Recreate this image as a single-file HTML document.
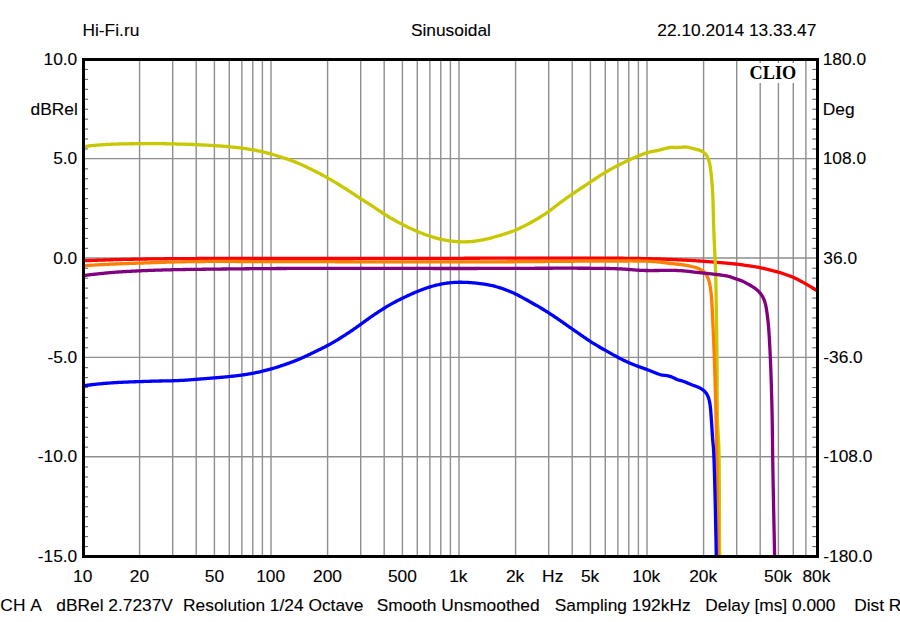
<!DOCTYPE html>
<html><head><meta charset="utf-8"><style>
html,body{margin:0;padding:0;background:#fff;width:900px;height:622px;overflow:hidden;}
svg{display:block;}
</style></head><body>
<svg width="900" height="622" viewBox="0 0 900 622"><defs><clipPath id="pc"><rect x="85" y="61" width="731" height="494"/></clipPath></defs><g stroke="#8e8e8e" stroke-width="1.4"><line x1="139.59" y1="61" x2="139.59" y2="555" /><line x1="172.70" y1="61" x2="172.70" y2="555" /><line x1="196.19" y1="61" x2="196.19" y2="555" /><line x1="214.41" y1="61" x2="214.41" y2="555" /><line x1="229.29" y1="61" x2="229.29" y2="555" /><line x1="241.88" y1="61" x2="241.88" y2="555" /><line x1="252.78" y1="61" x2="252.78" y2="555" /><line x1="262.40" y1="61" x2="262.40" y2="555" /><line x1="271.00" y1="61" x2="271.00" y2="555" /><line x1="327.59" y1="61" x2="327.59" y2="555" /><line x1="360.70" y1="61" x2="360.70" y2="555" /><line x1="384.19" y1="61" x2="384.19" y2="555" /><line x1="402.41" y1="61" x2="402.41" y2="555" /><line x1="417.29" y1="61" x2="417.29" y2="555" /><line x1="429.88" y1="61" x2="429.88" y2="555" /><line x1="440.78" y1="61" x2="440.78" y2="555" /><line x1="450.40" y1="61" x2="450.40" y2="555" /><line x1="459.00" y1="61" x2="459.00" y2="555" /><line x1="515.59" y1="61" x2="515.59" y2="555" /><line x1="548.70" y1="61" x2="548.70" y2="555" /><line x1="572.19" y1="61" x2="572.19" y2="555" /><line x1="590.41" y1="61" x2="590.41" y2="555" /><line x1="605.29" y1="61" x2="605.29" y2="555" /><line x1="617.88" y1="61" x2="617.88" y2="555" /><line x1="628.78" y1="61" x2="628.78" y2="555" /><line x1="638.40" y1="61" x2="638.40" y2="555" /><line x1="647.00" y1="61" x2="647.00" y2="555" /><line x1="703.59" y1="61" x2="703.59" y2="555" /><line x1="736.70" y1="61" x2="736.70" y2="555" /><line x1="760.19" y1="61" x2="760.19" y2="555" /><line x1="778.41" y1="61" x2="778.41" y2="555" /><line x1="793.29" y1="61" x2="793.29" y2="555" /><line x1="805.88" y1="61" x2="805.88" y2="555" /><line x1="85" y1="158.65" x2="816" y2="158.65" /><line x1="85" y1="258.00" x2="816" y2="258.00" /><line x1="85" y1="357.35" x2="816" y2="357.35" /><line x1="85" y1="456.70" x2="816" y2="456.70" /></g><g stroke="#686868" stroke-width="1.1"><line x1="85" y1="69.44" x2="88" y2="69.44" /><line x1="812.3" y1="69.44" x2="816" y2="69.44" /><line x1="85" y1="79.38" x2="88" y2="79.38" /><line x1="812.3" y1="79.38" x2="816" y2="79.38" /><line x1="85" y1="89.32" x2="88" y2="89.32" /><line x1="812.3" y1="89.32" x2="816" y2="89.32" /><line x1="85" y1="99.26" x2="88" y2="99.26" /><line x1="812.3" y1="99.26" x2="816" y2="99.26" /><line x1="85" y1="109.20" x2="88" y2="109.20" /><line x1="812.3" y1="109.20" x2="816" y2="109.20" /><line x1="85" y1="119.14" x2="88" y2="119.14" /><line x1="812.3" y1="119.14" x2="816" y2="119.14" /><line x1="85" y1="129.08" x2="88" y2="129.08" /><line x1="812.3" y1="129.08" x2="816" y2="129.08" /><line x1="85" y1="139.02" x2="88" y2="139.02" /><line x1="812.3" y1="139.02" x2="816" y2="139.02" /><line x1="85" y1="148.96" x2="88" y2="148.96" /><line x1="812.3" y1="148.96" x2="816" y2="148.96" /><line x1="85" y1="168.84" x2="88" y2="168.84" /><line x1="812.3" y1="168.84" x2="816" y2="168.84" /><line x1="85" y1="178.78" x2="88" y2="178.78" /><line x1="812.3" y1="178.78" x2="816" y2="178.78" /><line x1="85" y1="188.72" x2="88" y2="188.72" /><line x1="812.3" y1="188.72" x2="816" y2="188.72" /><line x1="85" y1="198.66" x2="88" y2="198.66" /><line x1="812.3" y1="198.66" x2="816" y2="198.66" /><line x1="85" y1="208.60" x2="88" y2="208.60" /><line x1="812.3" y1="208.60" x2="816" y2="208.60" /><line x1="85" y1="218.54" x2="88" y2="218.54" /><line x1="812.3" y1="218.54" x2="816" y2="218.54" /><line x1="85" y1="228.48" x2="88" y2="228.48" /><line x1="812.3" y1="228.48" x2="816" y2="228.48" /><line x1="85" y1="238.42" x2="88" y2="238.42" /><line x1="812.3" y1="238.42" x2="816" y2="238.42" /><line x1="85" y1="248.36" x2="88" y2="248.36" /><line x1="812.3" y1="248.36" x2="816" y2="248.36" /><line x1="85" y1="268.24" x2="88" y2="268.24" /><line x1="812.3" y1="268.24" x2="816" y2="268.24" /><line x1="85" y1="278.18" x2="88" y2="278.18" /><line x1="812.3" y1="278.18" x2="816" y2="278.18" /><line x1="85" y1="288.12" x2="88" y2="288.12" /><line x1="812.3" y1="288.12" x2="816" y2="288.12" /><line x1="85" y1="298.06" x2="88" y2="298.06" /><line x1="812.3" y1="298.06" x2="816" y2="298.06" /><line x1="85" y1="308.00" x2="88" y2="308.00" /><line x1="812.3" y1="308.00" x2="816" y2="308.00" /><line x1="85" y1="317.94" x2="88" y2="317.94" /><line x1="812.3" y1="317.94" x2="816" y2="317.94" /><line x1="85" y1="327.88" x2="88" y2="327.88" /><line x1="812.3" y1="327.88" x2="816" y2="327.88" /><line x1="85" y1="337.82" x2="88" y2="337.82" /><line x1="812.3" y1="337.82" x2="816" y2="337.82" /><line x1="85" y1="347.76" x2="88" y2="347.76" /><line x1="812.3" y1="347.76" x2="816" y2="347.76" /><line x1="85" y1="367.64" x2="88" y2="367.64" /><line x1="812.3" y1="367.64" x2="816" y2="367.64" /><line x1="85" y1="377.58" x2="88" y2="377.58" /><line x1="812.3" y1="377.58" x2="816" y2="377.58" /><line x1="85" y1="387.52" x2="88" y2="387.52" /><line x1="812.3" y1="387.52" x2="816" y2="387.52" /><line x1="85" y1="397.46" x2="88" y2="397.46" /><line x1="812.3" y1="397.46" x2="816" y2="397.46" /><line x1="85" y1="407.40" x2="88" y2="407.40" /><line x1="812.3" y1="407.40" x2="816" y2="407.40" /><line x1="85" y1="417.34" x2="88" y2="417.34" /><line x1="812.3" y1="417.34" x2="816" y2="417.34" /><line x1="85" y1="427.28" x2="88" y2="427.28" /><line x1="812.3" y1="427.28" x2="816" y2="427.28" /><line x1="85" y1="437.22" x2="88" y2="437.22" /><line x1="812.3" y1="437.22" x2="816" y2="437.22" /><line x1="85" y1="447.16" x2="88" y2="447.16" /><line x1="812.3" y1="447.16" x2="816" y2="447.16" /><line x1="85" y1="467.04" x2="88" y2="467.04" /><line x1="812.3" y1="467.04" x2="816" y2="467.04" /><line x1="85" y1="476.98" x2="88" y2="476.98" /><line x1="812.3" y1="476.98" x2="816" y2="476.98" /><line x1="85" y1="486.92" x2="88" y2="486.92" /><line x1="812.3" y1="486.92" x2="816" y2="486.92" /><line x1="85" y1="496.86" x2="88" y2="496.86" /><line x1="812.3" y1="496.86" x2="816" y2="496.86" /><line x1="85" y1="506.80" x2="88" y2="506.80" /><line x1="812.3" y1="506.80" x2="816" y2="506.80" /><line x1="85" y1="516.74" x2="88" y2="516.74" /><line x1="812.3" y1="516.74" x2="816" y2="516.74" /><line x1="85" y1="526.68" x2="88" y2="526.68" /><line x1="812.3" y1="526.68" x2="816" y2="526.68" /><line x1="85" y1="536.62" x2="88" y2="536.62" /><line x1="812.3" y1="536.62" x2="816" y2="536.62" /><line x1="85" y1="546.56" x2="88" y2="546.56" /><line x1="812.3" y1="546.56" x2="816" y2="546.56" /></g><rect x="742" y="63" width="60" height="20" fill="#fff"/><text x="749.61" y="79" font-family="'Liberation Serif', serif" font-weight="bold" font-size="18.26" fill="#000" style="font-kerning:none">CLIO</text><g fill="none" stroke-width="3.3" stroke-linejoin="round" stroke-linecap="round" clip-path="url(#pc)"><path d="M84.50,260.70 L85.50,260.66 L86.50,260.63 L87.50,260.59 L88.50,260.55 L89.50,260.52 L90.49,260.48 L91.49,260.44 L92.49,260.41 L93.49,260.37 L94.49,260.33 L95.49,260.30 L96.49,260.26 L97.49,260.23 L98.49,260.19 L99.49,260.16 L100.48,260.12 L101.48,260.09 L102.48,260.05 L103.48,260.02 L104.48,259.99 L105.48,259.95 L106.48,259.92 L107.48,259.89 L108.48,259.86 L109.48,259.83 L110.48,259.80 L111.48,259.77 L112.48,259.74 L113.47,259.71 L114.47,259.68 L115.47,259.65 L116.47,259.63 L117.47,259.60 L118.47,259.57 L119.47,259.55 L120.47,259.52 L121.47,259.50 L122.47,259.47 L123.47,259.45 L124.47,259.42 L125.47,259.40 L126.47,259.38 L127.47,259.35 L128.47,259.33 L129.46,259.31 L130.46,259.29 L131.46,259.27 L132.46,259.25 L133.46,259.23 L134.46,259.21 L135.46,259.19 L136.46,259.17 L137.46,259.15 L138.46,259.13 L139.46,259.12 L140.46,259.10 L141.46,259.08 L142.46,259.07 L143.46,259.05 L144.46,259.04 L145.46,259.02 L146.46,259.00 L147.46,258.99 L148.46,258.97 L149.46,258.96 L150.46,258.95 L151.46,258.93 L152.45,258.92 L153.45,258.91 L154.45,258.89 L155.45,258.88 L156.45,258.87 L157.45,258.85 L158.45,258.84 L159.45,258.83 L160.45,258.82 L161.45,258.81 L162.45,258.80 L163.45,258.78 L164.45,258.77 L165.45,258.76 L166.45,258.75 L167.45,258.74 L168.45,258.73 L169.45,258.72 L170.45,258.71 L171.45,258.70 L172.45,258.70 L173.45,258.69 L174.45,258.68 L175.45,258.67 L176.45,258.66 L177.45,258.65 L178.45,258.64 L179.45,258.64 L180.45,258.63 L181.44,258.62 L182.44,258.61 L183.44,258.61 L184.44,258.60 L185.44,258.59 L186.44,258.58 L187.44,258.58 L188.44,258.57 L189.44,258.56 L190.44,258.56 L191.44,258.55 L192.44,258.55 L193.44,258.54 L194.44,258.53 L195.44,258.53 L196.44,258.52 L197.44,258.52 L198.44,258.51 L199.44,258.51 L200.44,258.50 L201.44,258.50 L202.44,258.49 L203.44,258.49 L204.44,258.48 L205.44,258.48 L206.44,258.47 L207.44,258.47 L208.44,258.46 L209.44,258.46 L210.44,258.46 L211.44,258.45 L212.44,258.45 L213.44,258.45 L214.43,258.44 L215.43,258.44 L216.43,258.44 L217.43,258.43 L218.43,258.43 L219.43,258.43 L220.43,258.42 L221.43,258.42 L222.43,258.42 L223.43,258.42 L224.43,258.41 L225.43,258.41 L226.43,258.41 L227.43,258.41 L228.43,258.40 L229.43,258.40 L230.43,258.40 L231.43,258.40 L232.43,258.40 L233.43,258.39 L234.43,258.39 L235.43,258.39 L236.43,258.39 L237.43,258.39 L238.43,258.39 L239.43,258.38 L240.43,258.38 L241.43,258.38 L242.43,258.38 L243.43,258.38 L244.43,258.38 L245.43,258.38 L246.43,258.38 L247.43,258.37 L248.43,258.37 L249.42,258.37 L250.42,258.37 L251.42,258.37 L252.42,258.37 L253.42,258.37 L254.42,258.37 L255.42,258.37 L256.42,258.37 L257.42,258.37 L258.42,258.36 L259.42,258.36 L260.42,258.36 L261.42,258.36 L262.42,258.36 L263.42,258.36 L264.42,258.36 L265.42,258.36 L266.42,258.36 L267.42,258.36 L268.42,258.36 L269.42,258.36 L270.42,258.36 L271.42,258.36 L272.42,258.36 L273.42,258.36 L274.42,258.36 L275.42,258.36 L276.42,258.36 L277.42,258.36 L278.42,258.36 L279.42,258.36 L280.42,258.36 L281.42,258.36 L282.42,258.36 L283.42,258.36 L284.41,258.36 L285.41,258.36 L286.41,258.36 L287.41,258.36 L288.41,258.36 L289.41,258.36 L290.41,258.36 L291.41,258.36 L292.41,258.36 L293.41,258.36 L294.41,258.36 L295.41,258.36 L296.41,258.36 L297.41,258.36 L298.41,258.36 L299.41,258.36 L300.41,258.36 L301.41,258.36 L302.41,258.36 L303.41,258.36 L304.41,258.36 L305.41,258.36 L306.41,258.36 L307.41,258.36 L308.41,258.36 L309.41,258.36 L310.41,258.36 L311.41,258.36 L312.41,258.37 L313.41,258.37 L314.41,258.37 L315.41,258.37 L316.41,258.37 L317.41,258.37 L318.41,258.37 L319.40,258.37 L320.40,258.37 L321.40,258.37 L322.40,258.37 L323.40,258.37 L324.40,258.37 L325.40,258.37 L326.40,258.37 L327.40,258.37 L328.40,258.37 L329.40,258.37 L330.40,258.37 L331.40,258.37 L332.40,258.37 L333.40,258.38 L334.40,258.38 L335.40,258.38 L336.40,258.38 L337.40,258.38 L338.40,258.38 L339.40,258.38 L340.40,258.38 L341.40,258.38 L342.40,258.38 L343.40,258.38 L344.40,258.38 L345.40,258.38 L346.40,258.38 L347.40,258.38 L348.40,258.38 L349.40,258.38 L350.40,258.38 L351.40,258.38 L352.40,258.39 L353.40,258.39 L354.39,258.39 L355.39,258.39 L356.39,258.39 L357.39,258.39 L358.39,258.39 L359.39,258.39 L360.39,258.39 L361.39,258.39 L362.39,258.39 L363.39,258.39 L364.39,258.39 L365.39,258.39 L366.39,258.39 L367.39,258.39 L368.39,258.39 L369.39,258.39 L370.39,258.39 L371.39,258.39 L372.39,258.39 L373.39,258.39 L374.39,258.40 L375.39,258.40 L376.39,258.40 L377.39,258.40 L378.39,258.40 L379.39,258.40 L380.39,258.40 L381.39,258.40 L382.39,258.40 L383.39,258.40 L384.39,258.40 L385.39,258.40 L386.39,258.40 L387.39,258.40 L388.39,258.40 L389.38,258.40 L390.38,258.40 L391.38,258.40 L392.38,258.40 L393.38,258.40 L394.38,258.40 L395.38,258.40 L396.38,258.40 L397.38,258.40 L398.38,258.40 L399.38,258.40 L400.38,258.40 L401.38,258.40 L402.38,258.40 L403.38,258.40 L404.38,258.40 L405.38,258.40 L406.38,258.40 L407.38,258.40 L408.38,258.39 L409.38,258.39 L410.38,258.39 L411.38,258.39 L412.38,258.39 L413.38,258.39 L414.38,258.39 L415.38,258.39 L416.38,258.39 L417.38,258.39 L418.38,258.38 L419.38,258.38 L420.38,258.38 L421.38,258.38 L422.38,258.38 L423.38,258.38 L424.37,258.37 L425.37,258.37 L426.37,258.37 L427.37,258.37 L428.37,258.37 L429.37,258.36 L430.37,258.36 L431.37,258.36 L432.37,258.36 L433.37,258.36 L434.37,258.35 L435.37,258.35 L436.37,258.35 L437.37,258.35 L438.37,258.34 L439.37,258.34 L440.37,258.34 L441.37,258.34 L442.37,258.33 L443.37,258.33 L444.37,258.33 L445.37,258.33 L446.37,258.32 L447.37,258.32 L448.37,258.32 L449.37,258.32 L450.37,258.31 L451.37,258.31 L452.37,258.31 L453.37,258.31 L454.37,258.30 L455.37,258.30 L456.37,258.30 L457.37,258.29 L458.36,258.29 L459.36,258.29 L460.36,258.29 L461.36,258.28 L462.36,258.28 L463.36,258.28 L464.36,258.27 L465.36,258.27 L466.36,258.27 L467.36,258.26 L468.36,258.26 L469.36,258.26 L470.36,258.26 L471.36,258.25 L472.36,258.25 L473.36,258.25 L474.36,258.24 L475.36,258.24 L476.36,258.24 L477.36,258.23 L478.36,258.23 L479.36,258.23 L480.36,258.22 L481.36,258.22 L482.36,258.22 L483.36,258.22 L484.36,258.21 L485.36,258.21 L486.36,258.21 L487.36,258.20 L488.36,258.20 L489.36,258.20 L490.36,258.19 L491.36,258.19 L492.35,258.19 L493.35,258.19 L494.35,258.18 L495.35,258.18 L496.35,258.18 L497.35,258.17 L498.35,258.17 L499.35,258.17 L500.35,258.16 L501.35,258.16 L502.35,258.16 L503.35,258.16 L504.35,258.15 L505.35,258.15 L506.35,258.15 L507.35,258.14 L508.35,258.14 L509.35,258.14 L510.35,258.14 L511.35,258.13 L512.35,258.13 L513.35,258.13 L514.35,258.13 L515.35,258.12 L516.35,258.12 L517.35,258.12 L518.35,258.12 L519.35,258.11 L520.35,258.11 L521.35,258.11 L522.35,258.11 L523.35,258.10 L524.35,258.10 L525.35,258.10 L526.35,258.10 L527.34,258.09 L528.34,258.09 L529.34,258.09 L530.34,258.09 L531.34,258.09 L532.34,258.08 L533.34,258.08 L534.34,258.08 L535.34,258.08 L536.34,258.08 L537.34,258.07 L538.34,258.07 L539.34,258.07 L540.34,258.07 L541.34,258.07 L542.34,258.07 L543.34,258.06 L544.34,258.06 L545.34,258.06 L546.34,258.06 L547.34,258.06 L548.34,258.06 L549.34,258.06 L550.34,258.05 L551.34,258.05 L552.34,258.05 L553.34,258.05 L554.34,258.05 L555.34,258.05 L556.34,258.05 L557.34,258.05 L558.34,258.05 L559.34,258.05 L560.34,258.05 L561.34,258.05 L562.33,258.05 L563.33,258.05 L564.33,258.05 L565.33,258.05 L566.33,258.05 L567.33,258.05 L568.33,258.05 L569.33,258.05 L570.33,258.05 L571.33,258.05 L572.33,258.05 L573.33,258.05 L574.33,258.05 L575.33,258.05 L576.33,258.05 L577.33,258.05 L578.33,258.05 L579.33,258.05 L580.33,258.06 L581.33,258.06 L582.33,258.06 L583.33,258.06 L584.33,258.06 L585.33,258.06 L586.33,258.07 L587.33,258.07 L588.33,258.07 L589.33,258.07 L590.33,258.08 L591.33,258.08 L592.33,258.08 L593.33,258.09 L594.33,258.09 L595.33,258.09 L596.32,258.10 L597.32,258.10 L598.32,258.10 L599.32,258.11 L600.32,258.11 L601.32,258.12 L602.32,258.12 L603.32,258.13 L604.32,258.13 L605.32,258.14 L606.32,258.14 L607.32,258.15 L608.32,258.15 L609.32,258.16 L610.32,258.17 L611.32,258.17 L612.32,258.18 L613.32,258.19 L614.32,258.19 L615.32,258.20 L616.32,258.21 L617.32,258.22 L618.32,258.23 L619.32,258.23 L620.32,258.24 L621.32,258.25 L622.32,258.26 L623.32,258.27 L624.32,258.28 L625.32,258.30 L626.32,258.31 L627.32,258.32 L628.31,258.33 L629.31,258.34 L630.31,258.36 L631.31,258.37 L632.31,258.38 L633.31,258.40 L634.31,258.41 L635.31,258.43 L636.31,258.45 L637.31,258.46 L638.31,258.48 L639.31,258.50 L640.31,258.52 L641.31,258.53 L642.31,258.55 L643.31,258.57 L644.31,258.59 L645.31,258.62 L646.31,258.64 L647.31,258.66 L648.31,258.68 L649.31,258.71 L650.30,258.73 L651.30,258.76 L652.30,258.79 L653.30,258.81 L654.30,258.84 L655.30,258.87 L656.30,258.90 L657.30,258.93 L658.30,258.96 L659.30,258.99 L660.30,259.02 L661.30,259.06 L662.30,259.09 L663.29,259.13 L664.29,259.16 L665.29,259.20 L666.29,259.24 L667.29,259.28 L668.29,259.32 L669.29,259.36 L670.29,259.40 L671.29,259.45 L672.28,259.49 L673.28,259.54 L674.28,259.58 L675.28,259.63 L676.28,259.68 L677.28,259.73 L678.28,259.78 L679.27,259.83 L680.27,259.88 L681.27,259.93 L682.27,259.98 L683.27,260.03 L684.27,260.09 L685.26,260.14 L686.26,260.19 L687.26,260.25 L688.26,260.30 L689.26,260.36 L690.26,260.42 L691.25,260.47 L692.25,260.53 L693.25,260.59 L694.25,260.65 L695.25,260.72 L696.24,260.78 L697.24,260.84 L698.24,260.91 L699.24,260.98 L700.23,261.05 L701.23,261.12 L702.23,261.19 L703.22,261.26 L704.22,261.33 L705.22,261.41 L706.22,261.48 L707.21,261.56 L708.21,261.64 L709.21,261.72 L710.20,261.79 L711.20,261.87 L712.19,261.95 L713.19,262.04 L714.19,262.12 L715.18,262.20 L716.18,262.28 L717.18,262.36 L718.17,262.45 L719.17,262.53 L720.17,262.62 L721.16,262.70 L722.16,262.78 L723.15,262.87 L724.15,262.96 L725.15,263.04 L726.14,263.13 L727.14,263.22 L728.13,263.31 L729.13,263.41 L730.12,263.50 L731.12,263.60 L732.11,263.70 L733.11,263.80 L734.10,263.90 L735.10,264.01 L736.09,264.12 L737.08,264.23 L738.08,264.35 L739.07,264.47 L740.06,264.59 L741.05,264.72 L742.04,264.85 L743.03,264.98 L744.02,265.12 L745.01,265.26 L746.00,265.40 L746.99,265.54 L747.98,265.68 L748.97,265.83 L749.96,265.97 L750.95,266.12 L751.94,266.27 L752.93,266.42 L753.91,266.57 L754.90,266.73 L755.89,266.89 L756.87,267.06 L757.86,267.24 L758.84,267.42 L759.82,267.62 L760.80,267.82 L761.77,268.03 L762.75,268.25 L763.72,268.48 L764.69,268.72 L765.66,268.96 L766.63,269.20 L767.60,269.44 L768.57,269.68 L769.54,269.92 L770.52,270.16 L771.49,270.39 L772.46,270.62 L773.43,270.85 L774.41,271.08 L775.38,271.32 L776.35,271.56 L777.31,271.82 L778.27,272.09 L779.23,272.37 L780.19,272.66 L781.14,272.97 L782.09,273.29 L783.03,273.61 L783.98,273.94 L784.92,274.27 L785.86,274.61 L786.80,274.94 L787.74,275.28 L788.69,275.61 L789.63,275.95 L790.56,276.30 L791.50,276.66 L792.42,277.03 L793.34,277.41 L794.26,277.81 L795.17,278.23 L796.07,278.66 L796.96,279.10 L797.86,279.55 L798.74,280.01 L799.63,280.48 L800.51,280.95 L801.39,281.43 L802.27,281.91 L803.14,282.39 L804.01,282.88 L804.88,283.37 L805.75,283.87 L806.62,284.37 L807.48,284.87 L808.34,285.38 L809.19,285.90 L810.05,286.42 L810.90,286.94 L811.75,287.47 L812.60,287.99 L813.45,288.52 L814.30,289.05 L815.15,289.58 L816.00,290.10" stroke="#ff0000"/><path d="M84.50,146.60 L85.49,146.45 L86.48,146.29 L87.46,146.14 L88.45,146.00 L89.44,145.87 L90.44,145.76 L91.43,145.65 L92.43,145.55 L93.42,145.46 L94.42,145.37 L95.41,145.28 L96.41,145.20 L97.40,145.12 L98.40,145.04 L99.40,144.97 L100.39,144.90 L101.39,144.83 L102.39,144.76 L103.39,144.69 L104.38,144.63 L105.38,144.57 L106.38,144.51 L107.38,144.46 L108.38,144.40 L109.37,144.35 L110.37,144.30 L111.37,144.26 L112.37,144.21 L113.37,144.17 L114.37,144.13 L115.37,144.09 L116.37,144.06 L117.37,144.03 L118.36,144.00 L119.36,143.97 L120.36,143.94 L121.36,143.92 L122.36,143.89 L123.36,143.87 L124.36,143.85 L125.36,143.83 L126.36,143.82 L127.36,143.80 L128.36,143.79 L129.36,143.78 L130.36,143.77 L131.36,143.76 L132.36,143.75 L133.36,143.74 L134.36,143.73 L135.36,143.72 L136.36,143.71 L137.36,143.71 L138.36,143.70 L139.36,143.69 L140.36,143.69 L141.36,143.68 L142.36,143.67 L143.36,143.67 L144.36,143.66 L145.36,143.65 L146.36,143.65 L147.36,143.64 L148.35,143.64 L149.35,143.63 L150.35,143.63 L151.35,143.63 L152.35,143.62 L153.35,143.62 L154.35,143.63 L155.35,143.63 L156.35,143.63 L157.35,143.64 L158.35,143.64 L159.35,143.65 L160.35,143.66 L161.35,143.68 L162.35,143.69 L163.35,143.71 L164.35,143.72 L165.35,143.74 L166.35,143.76 L167.35,143.78 L168.35,143.80 L169.35,143.82 L170.35,143.85 L171.35,143.87 L172.35,143.90 L173.35,143.92 L174.35,143.95 L175.35,143.97 L176.34,144.00 L177.34,144.03 L178.34,144.05 L179.34,144.08 L180.34,144.11 L181.34,144.14 L182.34,144.16 L183.34,144.19 L184.34,144.22 L185.34,144.25 L186.34,144.28 L187.34,144.31 L188.34,144.35 L189.34,144.38 L190.34,144.41 L191.33,144.45 L192.33,144.48 L193.33,144.52 L194.33,144.56 L195.33,144.60 L196.33,144.64 L197.33,144.69 L198.33,144.73 L199.33,144.78 L200.32,144.82 L201.32,144.87 L202.32,144.92 L203.32,144.98 L204.32,145.03 L205.32,145.08 L206.32,145.14 L207.31,145.19 L208.31,145.25 L209.31,145.31 L210.31,145.37 L211.31,145.43 L212.30,145.49 L213.30,145.55 L214.30,145.62 L215.30,145.68 L216.29,145.75 L217.29,145.81 L218.29,145.88 L219.29,145.95 L220.28,146.02 L221.28,146.10 L222.28,146.17 L223.27,146.25 L224.27,146.33 L225.27,146.41 L226.26,146.49 L227.26,146.58 L228.26,146.66 L229.25,146.75 L230.25,146.85 L231.24,146.94 L232.24,147.04 L233.23,147.15 L234.22,147.25 L235.22,147.36 L236.21,147.47 L237.20,147.58 L238.20,147.70 L239.19,147.82 L240.18,147.94 L241.17,148.06 L242.17,148.19 L243.16,148.32 L244.15,148.46 L245.14,148.59 L246.13,148.74 L247.11,148.88 L248.10,149.03 L249.09,149.19 L250.08,149.35 L251.06,149.51 L252.05,149.68 L253.03,149.86 L254.01,150.04 L254.99,150.23 L255.97,150.42 L256.95,150.61 L257.93,150.82 L258.91,151.02 L259.89,151.23 L260.86,151.45 L261.84,151.67 L262.81,151.90 L263.78,152.13 L264.75,152.36 L265.72,152.60 L266.69,152.85 L267.66,153.10 L268.62,153.36 L269.59,153.62 L270.55,153.88 L271.51,154.16 L272.47,154.43 L273.43,154.71 L274.38,155.00 L275.34,155.29 L276.30,155.58 L277.25,155.88 L278.20,156.18 L279.16,156.48 L280.11,156.78 L281.06,157.09 L282.01,157.39 L282.96,157.70 L283.91,158.00 L284.86,158.31 L285.81,158.63 L286.76,158.94 L287.71,159.26 L288.65,159.58 L289.60,159.91 L290.54,160.25 L291.48,160.59 L292.41,160.93 L293.35,161.28 L294.28,161.64 L295.21,162.01 L296.13,162.38 L297.06,162.76 L297.98,163.15 L298.89,163.54 L299.81,163.94 L300.72,164.34 L301.64,164.75 L302.54,165.17 L303.45,165.58 L304.36,166.01 L305.26,166.43 L306.16,166.86 L307.07,167.29 L307.97,167.73 L308.86,168.17 L309.76,168.61 L310.66,169.05 L311.55,169.49 L312.45,169.94 L313.34,170.38 L314.24,170.83 L315.13,171.28 L316.02,171.73 L316.91,172.19 L317.80,172.64 L318.69,173.10 L319.58,173.56 L320.47,174.02 L321.35,174.48 L322.23,174.95 L323.12,175.42 L324.00,175.90 L324.87,176.38 L325.75,176.86 L326.62,177.34 L327.49,177.83 L328.36,178.33 L329.23,178.83 L330.09,179.33 L330.95,179.83 L331.81,180.34 L332.67,180.85 L333.53,181.36 L334.39,181.88 L335.24,182.40 L336.10,182.91 L336.95,183.43 L337.81,183.95 L338.66,184.47 L339.51,185.00 L340.36,185.52 L341.22,186.04 L342.07,186.57 L342.92,187.09 L343.76,187.62 L344.61,188.15 L345.46,188.69 L346.30,189.22 L347.14,189.76 L347.98,190.30 L348.82,190.84 L349.66,191.39 L350.49,191.94 L351.33,192.49 L352.16,193.04 L352.99,193.59 L353.83,194.15 L354.66,194.70 L355.49,195.26 L356.32,195.81 L357.15,196.36 L357.99,196.91 L358.82,197.46 L359.66,198.00 L360.50,198.55 L361.34,199.09 L362.18,199.63 L363.02,200.17 L363.87,200.70 L364.71,201.24 L365.56,201.77 L366.40,202.30 L367.24,202.84 L368.09,203.38 L368.93,203.91 L369.77,204.45 L370.61,204.99 L371.45,205.54 L372.29,206.09 L373.12,206.64 L373.95,207.19 L374.78,207.74 L375.61,208.30 L376.44,208.86 L377.27,209.42 L378.10,209.97 L378.93,210.53 L379.76,211.09 L380.59,211.65 L381.42,212.20 L382.26,212.75 L383.09,213.30 L383.93,213.84 L384.77,214.38 L385.61,214.92 L386.46,215.45 L387.30,215.98 L388.16,216.51 L389.01,217.02 L389.87,217.54 L390.73,218.05 L391.59,218.55 L392.45,219.05 L393.32,219.55 L394.19,220.04 L395.06,220.52 L395.94,221.01 L396.82,221.49 L397.69,221.96 L398.58,222.43 L399.46,222.90 L400.34,223.37 L401.23,223.83 L402.12,224.29 L403.01,224.74 L403.90,225.19 L404.79,225.64 L405.69,226.09 L406.58,226.53 L407.48,226.97 L408.38,227.41 L409.28,227.84 L410.18,228.27 L411.09,228.70 L411.99,229.12 L412.90,229.53 L413.81,229.94 L414.72,230.35 L415.64,230.75 L416.56,231.15 L417.48,231.54 L418.40,231.92 L419.32,232.30 L420.25,232.67 L421.18,233.03 L422.11,233.39 L423.05,233.75 L423.98,234.10 L424.92,234.44 L425.86,234.78 L426.80,235.11 L427.75,235.44 L428.69,235.76 L429.64,236.07 L430.59,236.39 L431.54,236.69 L432.49,236.99 L433.45,237.28 L434.40,237.57 L435.36,237.85 L436.32,238.12 L437.29,238.38 L438.25,238.63 L439.22,238.88 L440.19,239.11 L441.16,239.34 L442.13,239.55 L443.11,239.76 L444.09,239.95 L445.06,240.14 L446.05,240.32 L447.03,240.48 L448.02,240.64 L449.00,240.78 L449.99,240.92 L450.98,241.05 L451.97,241.16 L452.96,241.27 L453.95,241.37 L454.95,241.46 L455.94,241.54 L456.94,241.61 L457.93,241.67 L458.93,241.72 L459.93,241.76 L460.92,241.79 L461.92,241.81 L462.92,241.83 L463.92,241.83 L464.91,241.82 L465.91,241.80 L466.91,241.77 L467.90,241.73 L468.90,241.67 L469.89,241.61 L470.89,241.54 L471.88,241.45 L472.87,241.36 L473.86,241.25 L474.85,241.13 L475.84,241.01 L476.83,240.87 L477.82,240.72 L478.80,240.57 L479.79,240.40 L480.77,240.22 L481.75,240.04 L482.73,239.85 L483.71,239.65 L484.68,239.44 L485.66,239.22 L486.63,239.00 L487.60,238.77 L488.57,238.54 L489.54,238.30 L490.51,238.05 L491.48,237.80 L492.44,237.54 L493.41,237.28 L494.37,237.02 L495.33,236.75 L496.30,236.48 L497.26,236.20 L498.22,235.92 L499.18,235.64 L500.13,235.36 L501.09,235.07 L502.05,234.78 L503.00,234.48 L503.96,234.19 L504.91,233.89 L505.86,233.58 L506.81,233.27 L507.76,232.96 L508.70,232.64 L509.65,232.31 L510.59,231.98 L511.53,231.64 L512.46,231.29 L513.39,230.93 L514.32,230.57 L515.24,230.19 L516.17,229.81 L517.08,229.42 L518.00,229.02 L518.90,228.61 L519.81,228.19 L520.71,227.77 L521.61,227.33 L522.51,226.89 L523.40,226.45 L524.30,226.00 L525.19,225.55 L526.07,225.09 L526.96,224.62 L527.84,224.16 L528.72,223.69 L529.60,223.21 L530.48,222.74 L531.36,222.26 L532.23,221.77 L533.11,221.29 L533.98,220.80 L534.85,220.30 L535.71,219.80 L536.58,219.30 L537.44,218.80 L538.30,218.28 L539.15,217.77 L540.00,217.25 L540.85,216.72 L541.70,216.19 L542.54,215.65 L543.38,215.11 L544.21,214.56 L545.04,214.00 L545.86,213.44 L546.68,212.87 L547.50,212.30 L548.31,211.72 L549.12,211.13 L549.93,210.54 L550.73,209.95 L551.53,209.35 L552.33,208.74 L553.12,208.14 L553.91,207.53 L554.71,206.92 L555.50,206.31 L556.29,205.70 L557.08,205.09 L557.87,204.49 L558.67,203.88 L559.47,203.28 L560.26,202.67 L561.06,202.08 L561.87,201.48 L562.67,200.89 L563.48,200.30 L564.29,199.71 L565.10,199.13 L565.91,198.55 L566.73,197.97 L567.54,197.39 L568.36,196.82 L569.18,196.25 L570.00,195.68 L570.83,195.11 L571.65,194.54 L572.48,193.98 L573.30,193.42 L574.13,192.85 L574.96,192.29 L575.78,191.73 L576.61,191.18 L577.44,190.62 L578.27,190.06 L579.11,189.51 L579.94,188.96 L580.77,188.40 L581.61,187.85 L582.44,187.30 L583.28,186.75 L584.11,186.21 L584.95,185.66 L585.78,185.11 L586.62,184.56 L587.45,184.00 L588.28,183.45 L589.11,182.90 L589.95,182.34 L590.78,181.79 L591.61,181.23 L592.43,180.67 L593.26,180.11 L594.09,179.55 L594.92,179.00 L595.75,178.44 L596.58,177.89 L597.42,177.34 L598.25,176.79 L599.09,176.24 L599.93,175.70 L600.77,175.17 L601.62,174.64 L602.47,174.11 L603.32,173.59 L604.17,173.07 L605.03,172.55 L605.89,172.04 L606.75,171.54 L607.61,171.04 L608.48,170.54 L609.35,170.05 L610.22,169.56 L611.09,169.07 L611.97,168.59 L612.84,168.11 L613.72,167.63 L614.60,167.16 L615.49,166.69 L616.37,166.23 L617.26,165.77 L618.15,165.31 L619.04,164.86 L619.93,164.41 L620.83,163.96 L621.72,163.52 L622.62,163.08 L623.52,162.64 L624.42,162.21 L625.32,161.78 L626.23,161.36 L627.13,160.93 L628.04,160.51 L628.95,160.09 L629.86,159.68 L630.76,159.26 L631.67,158.85 L632.59,158.44 L633.50,158.03 L634.41,157.62 L635.33,157.22 L636.24,156.82 L637.16,156.43 L638.08,156.04 L639.00,155.65 L639.93,155.27 L640.85,154.90 L641.78,154.53 L642.71,154.18 L643.65,153.83 L644.59,153.50 L645.53,153.18 L646.48,152.87 L647.43,152.59 L648.39,152.32 L649.36,152.08 L650.33,151.85 L651.30,151.64 L652.28,151.45 L653.26,151.27 L654.25,151.09 L655.23,150.92 L656.21,150.75 L657.20,150.57 L658.18,150.38 L659.15,150.17 L660.12,149.94 L661.09,149.68 L662.05,149.41 L663.01,149.13 L663.97,148.85 L664.93,148.57 L665.89,148.30 L666.85,148.05 L667.82,147.82 L668.80,147.64 L669.78,147.51 L670.77,147.42 L671.76,147.38 L672.75,147.38 L673.75,147.41 L674.74,147.45 L675.74,147.48 L676.74,147.51 L677.74,147.51 L678.73,147.49 L679.73,147.44 L680.72,147.36 L681.71,147.27 L682.70,147.16 L683.69,147.07 L684.67,147.01 L685.65,147.01 L686.63,147.08 L687.60,147.22 L688.56,147.41 L689.52,147.66 L690.48,147.93 L691.44,148.20 L692.40,148.47 L693.37,148.72 L694.34,148.95 L695.31,149.16 L696.29,149.37 L697.26,149.60 L698.22,149.84 L699.17,150.13 L700.10,150.46 L701.02,150.84 L701.90,151.27 L702.75,151.77 L703.55,152.33 L704.31,152.95 L705.03,153.63 L705.68,154.35 L706.28,155.13 L706.83,155.95 L707.31,156.81 L707.75,157.70 L708.13,158.61 L708.48,159.54 L708.79,160.49 L709.07,161.44 L709.33,162.41 L709.56,163.38 L709.77,164.36 L709.96,165.34 L710.13,166.32 L710.29,167.31 L710.44,168.29 L710.57,169.28 L710.70,170.28 L710.82,171.27 L710.93,172.26 L711.04,173.26 L711.15,174.25 L711.25,175.24 L711.35,176.24 L711.44,177.23 L711.54,178.23 L711.63,179.23 L711.72,180.22 L711.81,181.22 L711.91,182.21 L712.00,183.21 L712.09,184.20 L712.17,185.20 L712.25,186.20 L712.33,187.19 L712.41,188.19 L712.47,189.19 L712.54,190.18 L712.60,191.18 L712.65,192.18 L712.70,193.18 L712.74,194.18 L712.79,195.18 L712.83,196.18 L712.86,197.18 L712.90,198.17 L712.93,199.17 L712.97,200.17 L713.00,201.17 L713.03,202.17 L713.06,203.17 L713.08,204.17 L713.11,205.17 L713.14,206.17 L713.16,207.17 L713.19,208.17 L713.22,209.17 L713.24,210.17 L713.27,211.17 L713.29,212.17 L713.32,213.17 L713.34,214.17 L713.37,215.16 L713.39,216.16 L713.42,217.16 L713.45,218.16 L713.47,219.16 L713.50,220.16 L713.53,221.16 L713.55,222.16 L713.58,223.16 L713.61,224.16 L713.64,225.16 L713.67,226.16 L713.71,227.16 L713.74,228.16 L713.77,229.16 L713.81,230.16 L713.85,231.15 L713.88,232.15 L713.92,233.15 L713.96,234.15 L714.00,235.15 L714.04,236.15 L714.09,237.15 L714.13,238.15 L714.17,239.15 L714.21,240.15 L714.26,241.14 L714.30,242.14 L714.34,243.14 L714.39,244.14 L714.43,245.14 L714.48,246.14 L714.52,247.14 L714.57,248.14 L714.61,249.13 L714.66,250.13 L714.70,251.13 L714.75,252.13 L714.79,253.13 L714.84,254.13 L714.88,255.13 L714.93,256.13 L714.97,257.12 L715.02,258.12 L715.06,259.12 L715.11,260.12 L715.15,261.12 L715.20,262.12 L715.24,263.12 L715.29,264.12 L715.34,265.12 L715.38,266.11 L715.42,267.11 L715.46,268.11 L715.50,269.11 L715.53,270.11 L715.57,271.11 L715.60,272.11 L715.63,273.11 L715.65,274.11 L715.68,275.11 L715.70,276.11 L715.73,277.11 L715.75,278.11 L715.77,279.11 L715.79,280.10 L715.82,281.10 L715.84,282.10 L715.86,283.10 L715.88,284.10 L715.90,285.10 L715.92,286.10 L715.94,287.10 L715.95,288.10 L715.97,289.10 L715.99,290.10 L716.01,291.10 L716.03,292.10 L716.04,293.10 L716.06,294.10 L716.08,295.10 L716.10,296.10 L716.11,297.10 L716.13,298.10 L716.15,299.10 L716.16,300.10 L716.18,301.10 L716.20,302.10 L716.21,303.10 L716.23,304.10 L716.24,305.10 L716.26,306.10 L716.27,307.10 L716.29,308.10 L716.31,309.09 L716.32,310.09 L716.34,311.09 L716.35,312.09 L716.37,313.09 L716.38,314.09 L716.40,315.09 L716.41,316.09 L716.43,317.09 L716.44,318.09 L716.46,319.09 L716.47,320.09 L716.48,321.09 L716.50,322.09 L716.51,323.09 L716.53,324.09 L716.54,325.09 L716.56,326.09 L716.57,327.09 L716.58,328.09 L716.60,329.09 L716.61,330.09 L716.63,331.09 L716.64,332.09 L716.65,333.09 L716.67,334.09 L716.68,335.09 L716.69,336.09 L716.71,337.09 L716.72,338.09 L716.73,339.09 L716.75,340.09 L716.76,341.09 L716.77,342.09 L716.79,343.08 L716.80,344.08 L716.81,345.08 L716.83,346.08 L716.84,347.08 L716.85,348.08 L716.86,349.08 L716.88,350.08 L716.89,351.08 L716.90,352.08 L716.91,353.08 L716.93,354.08 L716.94,355.08 L716.95,356.08 L716.96,357.08 L716.98,358.08 L716.99,359.08 L717.00,360.08 L717.01,361.08 L717.02,362.08 L717.03,363.08 L717.04,364.08 L717.05,365.08 L717.06,366.08 L717.07,367.08 L717.08,368.08 L717.08,369.08 L717.09,370.08 L717.10,371.08 L717.10,372.08 L717.11,373.08 L717.11,374.08 L717.12,375.08 L717.12,376.08 L717.13,377.08 L717.13,378.08 L717.14,379.08 L717.14,380.08 L717.14,381.08 L717.15,382.08 L717.15,383.08 L717.15,384.08 L717.16,385.08 L717.16,386.08 L717.16,387.07 L717.17,388.07 L717.17,389.07 L717.17,390.07 L717.18,391.07 L717.18,392.07 L717.18,393.07 L717.19,394.07 L717.19,395.07 L717.20,396.07 L717.20,397.07 L717.21,398.07 L717.21,399.07 L717.22,400.07 L717.22,401.07 L717.23,402.07 L717.24,403.07 L717.25,404.07 L717.25,405.07 L717.26,406.07 L717.27,407.07 L717.28,408.07 L717.30,409.07 L717.31,410.07 L717.32,411.07 L717.34,412.07 L717.35,413.07 L717.37,414.07 L717.39,415.07 L717.41,416.07 L717.43,417.07 L717.46,418.07 L717.48,419.07 L717.51,420.07 L717.54,421.07 L717.57,422.06 L717.61,423.06 L717.65,424.06 L717.69,425.06 L717.73,426.06 L717.78,427.06 L717.83,428.06 L717.88,429.06 L717.93,430.05 L717.99,431.05 L718.04,432.05 L718.10,433.05 L718.16,434.05 L718.22,435.05 L718.28,436.04 L718.33,437.04 L718.39,438.04 L718.44,439.04 L718.50,440.04 L718.55,441.04 L718.60,442.03 L718.64,443.03 L718.69,444.03 L718.73,445.03 L718.77,446.03 L718.80,447.03 L718.83,448.03 L718.87,449.03 L718.89,450.03 L718.92,451.03 L718.94,452.03 L718.97,453.02 L718.99,454.02 L719.01,455.02 L719.03,456.02 L719.05,457.02 L719.06,458.02 L719.08,459.02 L719.09,460.02 L719.11,461.02 L719.12,462.02 L719.13,463.02 L719.14,464.02 L719.16,465.02 L719.17,466.02 L719.18,467.02 L719.19,468.02 L719.20,469.02 L719.20,470.02 L719.21,471.02 L719.22,472.02 L719.23,473.02 L719.24,474.02 L719.24,475.02 L719.25,476.02 L719.26,477.02 L719.26,478.02 L719.27,479.02 L719.28,480.02 L719.28,481.02 L719.29,482.02 L719.29,483.02 L719.30,484.02 L719.30,485.02 L719.31,486.02 L719.31,487.02 L719.31,488.02 L719.32,489.02 L719.32,490.02 L719.32,491.02 L719.33,492.02 L719.33,493.02 L719.33,494.02 L719.34,495.01 L719.34,496.01 L719.34,497.01 L719.35,498.01 L719.35,499.01 L719.35,500.01 L719.35,501.01 L719.36,502.01 L719.36,503.01 L719.36,504.01 L719.36,505.01 L719.37,506.01 L719.37,507.01 L719.37,508.01 L719.37,509.01 L719.38,510.01 L719.38,511.01 L719.38,512.01 L719.38,513.01 L719.38,514.01 L719.39,515.01 L719.39,516.01 L719.39,517.01 L719.39,518.01 L719.40,519.01 L719.40,520.01 L719.40,521.01 L719.40,522.01 L719.41,523.01 L719.41,524.01 L719.41,525.01 L719.42,526.01 L719.42,527.01 L719.42,528.01 L719.43,529.01 L719.43,530.01 L719.44,531.01 L719.44,532.01 L719.45,533.01 L719.45,534.01 L719.46,535.01 L719.47,536.01 L719.47,537.01 L719.48,538.01 L719.49,539.01 L719.50,540.01 L719.51,541.01 L719.52,542.01 L719.54,543.01 L719.55,544.00 L719.56,545.00 L719.58,546.00 L719.59,547.00 L719.60,548.00 L719.62,549.00 L719.64,550.00 L719.65,551.00 L719.67,552.00 L719.69,553.00 L719.70,554.00 L719.72,555.00 L719.74,556.00 L719.75,557.00 L719.77,558.00 L719.78,559.00 L719.80,560.00" stroke="#c8c800"/><path d="M84.50,265.60 L85.50,265.54 L86.50,265.49 L87.49,265.43 L88.49,265.37 L89.49,265.32 L90.49,265.26 L91.49,265.20 L92.48,265.14 L93.48,265.09 L94.48,265.03 L95.48,264.97 L96.48,264.92 L97.48,264.86 L98.47,264.81 L99.47,264.75 L100.47,264.70 L101.47,264.65 L102.47,264.60 L103.46,264.54 L104.46,264.49 L105.46,264.44 L106.46,264.39 L107.46,264.34 L108.46,264.30 L109.46,264.25 L110.45,264.20 L111.45,264.16 L112.45,264.11 L113.45,264.07 L114.45,264.03 L115.45,263.99 L116.45,263.95 L117.45,263.90 L118.44,263.87 L119.44,263.83 L120.44,263.79 L121.44,263.75 L122.44,263.71 L123.44,263.68 L124.44,263.64 L125.44,263.60 L126.44,263.57 L127.44,263.53 L128.43,263.50 L129.43,263.46 L130.43,263.43 L131.43,263.39 L132.43,263.36 L133.43,263.32 L134.43,263.29 L135.43,263.25 L136.43,263.22 L137.43,263.19 L138.43,263.15 L139.42,263.12 L140.42,263.08 L141.42,263.05 L142.42,263.01 L143.42,262.98 L144.42,262.94 L145.42,262.91 L146.42,262.87 L147.42,262.84 L148.42,262.80 L149.42,262.77 L150.41,262.73 L151.41,262.70 L152.41,262.66 L153.41,262.63 L154.41,262.59 L155.41,262.56 L156.41,262.52 L157.41,262.49 L158.41,262.46 L159.41,262.42 L160.41,262.39 L161.40,262.36 L162.40,262.33 L163.40,262.29 L164.40,262.26 L165.40,262.23 L166.40,262.20 L167.40,262.17 L168.40,262.14 L169.40,262.11 L170.40,262.08 L171.40,262.06 L172.40,262.03 L173.40,262.00 L174.40,261.97 L175.39,261.95 L176.39,261.92 L177.39,261.90 L178.39,261.87 L179.39,261.85 L180.39,261.83 L181.39,261.80 L182.39,261.78 L183.39,261.76 L184.39,261.74 L185.39,261.72 L186.39,261.70 L187.39,261.68 L188.39,261.67 L189.39,261.65 L190.39,261.63 L191.39,261.62 L192.39,261.60 L193.39,261.59 L194.38,261.58 L195.38,261.56 L196.38,261.55 L197.38,261.54 L198.38,261.53 L199.38,261.52 L200.38,261.51 L201.38,261.50 L202.38,261.50 L203.38,261.49 L204.38,261.48 L205.38,261.48 L206.38,261.47 L207.38,261.47 L208.38,261.46 L209.38,261.46 L210.38,261.46 L211.38,261.45 L212.38,261.45 L213.38,261.45 L214.38,261.45 L215.38,261.45 L216.38,261.45 L217.38,261.44 L218.38,261.44 L219.38,261.44 L220.38,261.44 L221.38,261.45 L222.38,261.45 L223.38,261.45 L224.37,261.45 L225.37,261.45 L226.37,261.45 L227.37,261.45 L228.37,261.46 L229.37,261.46 L230.37,261.46 L231.37,261.46 L232.37,261.46 L233.37,261.47 L234.37,261.47 L235.37,261.47 L236.37,261.48 L237.37,261.48 L238.37,261.48 L239.37,261.48 L240.37,261.49 L241.37,261.49 L242.37,261.49 L243.37,261.50 L244.37,261.50 L245.37,261.50 L246.37,261.51 L247.37,261.51 L248.37,261.51 L249.37,261.52 L250.37,261.52 L251.37,261.52 L252.37,261.53 L253.37,261.53 L254.37,261.53 L255.37,261.54 L256.37,261.54 L257.36,261.54 L258.36,261.55 L259.36,261.55 L260.36,261.55 L261.36,261.56 L262.36,261.56 L263.36,261.56 L264.36,261.56 L265.36,261.57 L266.36,261.57 L267.36,261.57 L268.36,261.57 L269.36,261.58 L270.36,261.58 L271.36,261.58 L272.36,261.58 L273.36,261.59 L274.36,261.59 L275.36,261.59 L276.36,261.59 L277.36,261.59 L278.36,261.60 L279.36,261.60 L280.36,261.60 L281.36,261.60 L282.36,261.60 L283.36,261.61 L284.36,261.61 L285.36,261.61 L286.36,261.61 L287.36,261.61 L288.36,261.61 L289.35,261.62 L290.35,261.62 L291.35,261.62 L292.35,261.62 L293.35,261.62 L294.35,261.63 L295.35,261.63 L296.35,261.63 L297.35,261.63 L298.35,261.63 L299.35,261.64 L300.35,261.64 L301.35,261.64 L302.35,261.64 L303.35,261.65 L304.35,261.65 L305.35,261.65 L306.35,261.65 L307.35,261.66 L308.35,261.66 L309.35,261.66 L310.35,261.66 L311.35,261.66 L312.35,261.67 L313.35,261.67 L314.35,261.67 L315.35,261.67 L316.35,261.68 L317.35,261.68 L318.35,261.68 L319.35,261.68 L320.35,261.69 L321.35,261.69 L322.34,261.69 L323.34,261.70 L324.34,261.70 L325.34,261.70 L326.34,261.70 L327.34,261.71 L328.34,261.71 L329.34,261.71 L330.34,261.71 L331.34,261.72 L332.34,261.72 L333.34,261.72 L334.34,261.72 L335.34,261.73 L336.34,261.73 L337.34,261.73 L338.34,261.74 L339.34,261.74 L340.34,261.74 L341.34,261.74 L342.34,261.75 L343.34,261.75 L344.34,261.75 L345.34,261.75 L346.34,261.76 L347.34,261.76 L348.34,261.76 L349.34,261.76 L350.34,261.77 L351.34,261.77 L352.34,261.77 L353.34,261.77 L354.34,261.78 L355.33,261.78 L356.33,261.78 L357.33,261.79 L358.33,261.79 L359.33,261.79 L360.33,261.79 L361.33,261.80 L362.33,261.80 L363.33,261.80 L364.33,261.80 L365.33,261.81 L366.33,261.81 L367.33,261.81 L368.33,261.81 L369.33,261.82 L370.33,261.82 L371.33,261.82 L372.33,261.82 L373.33,261.83 L374.33,261.83 L375.33,261.83 L376.33,261.83 L377.33,261.84 L378.33,261.84 L379.33,261.84 L380.33,261.84 L381.33,261.84 L382.33,261.85 L383.33,261.85 L384.33,261.85 L385.33,261.85 L386.33,261.86 L387.32,261.86 L388.32,261.86 L389.32,261.86 L390.32,261.86 L391.32,261.87 L392.32,261.87 L393.32,261.87 L394.32,261.87 L395.32,261.87 L396.32,261.88 L397.32,261.88 L398.32,261.88 L399.32,261.88 L400.32,261.88 L401.32,261.89 L402.32,261.89 L403.32,261.89 L404.32,261.89 L405.32,261.89 L406.32,261.89 L407.32,261.90 L408.32,261.90 L409.32,261.90 L410.32,261.90 L411.32,261.90 L412.32,261.90 L413.32,261.91 L414.32,261.91 L415.32,261.91 L416.32,261.91 L417.32,261.91 L418.32,261.91 L419.32,261.91 L420.31,261.92 L421.31,261.92 L422.31,261.92 L423.31,261.92 L424.31,261.92 L425.31,261.92 L426.31,261.92 L427.31,261.92 L428.31,261.92 L429.31,261.93 L430.31,261.93 L431.31,261.93 L432.31,261.93 L433.31,261.93 L434.31,261.93 L435.31,261.93 L436.31,261.93 L437.31,261.93 L438.31,261.93 L439.31,261.93 L440.31,261.93 L441.31,261.93 L442.31,261.93 L443.31,261.93 L444.31,261.93 L445.31,261.93 L446.31,261.93 L447.31,261.93 L448.31,261.93 L449.31,261.93 L450.31,261.93 L451.31,261.93 L452.31,261.93 L453.30,261.93 L454.30,261.93 L455.30,261.93 L456.30,261.93 L457.30,261.93 L458.30,261.93 L459.30,261.93 L460.30,261.93 L461.30,261.93 L462.30,261.93 L463.30,261.93 L464.30,261.93 L465.30,261.92 L466.30,261.92 L467.30,261.92 L468.30,261.92 L469.30,261.92 L470.30,261.92 L471.30,261.92 L472.30,261.91 L473.30,261.91 L474.30,261.91 L475.30,261.91 L476.30,261.91 L477.30,261.90 L478.30,261.90 L479.30,261.90 L480.30,261.90 L481.30,261.89 L482.30,261.89 L483.30,261.89 L484.30,261.88 L485.30,261.88 L486.29,261.88 L487.29,261.87 L488.29,261.87 L489.29,261.87 L490.29,261.86 L491.29,261.86 L492.29,261.85 L493.29,261.85 L494.29,261.84 L495.29,261.84 L496.29,261.83 L497.29,261.83 L498.29,261.82 L499.29,261.82 L500.29,261.81 L501.29,261.81 L502.29,261.80 L503.29,261.80 L504.29,261.79 L505.29,261.78 L506.29,261.78 L507.29,261.77 L508.29,261.77 L509.29,261.76 L510.29,261.75 L511.29,261.75 L512.29,261.74 L513.29,261.73 L514.29,261.73 L515.29,261.72 L516.29,261.71 L517.28,261.71 L518.28,261.70 L519.28,261.69 L520.28,261.68 L521.28,261.68 L522.28,261.67 L523.28,261.66 L524.28,261.65 L525.28,261.65 L526.28,261.64 L527.28,261.63 L528.28,261.62 L529.28,261.61 L530.28,261.61 L531.28,261.60 L532.28,261.59 L533.28,261.58 L534.28,261.57 L535.28,261.57 L536.28,261.56 L537.28,261.55 L538.28,261.54 L539.28,261.53 L540.28,261.52 L541.28,261.52 L542.28,261.51 L543.28,261.50 L544.28,261.49 L545.28,261.48 L546.28,261.47 L547.27,261.46 L548.27,261.46 L549.27,261.45 L550.27,261.44 L551.27,261.43 L552.27,261.42 L553.27,261.41 L554.27,261.40 L555.27,261.39 L556.27,261.39 L557.27,261.38 L558.27,261.37 L559.27,261.36 L560.27,261.35 L561.27,261.34 L562.27,261.33 L563.27,261.32 L564.27,261.32 L565.27,261.31 L566.27,261.30 L567.27,261.29 L568.27,261.28 L569.27,261.27 L570.27,261.26 L571.27,261.26 L572.27,261.25 L573.27,261.24 L574.27,261.23 L575.27,261.22 L576.26,261.21 L577.26,261.21 L578.26,261.20 L579.26,261.19 L580.26,261.18 L581.26,261.17 L582.26,261.17 L583.26,261.16 L584.26,261.15 L585.26,261.14 L586.26,261.14 L587.26,261.13 L588.26,261.12 L589.26,261.11 L590.26,261.11 L591.26,261.10 L592.26,261.09 L593.26,261.09 L594.26,261.08 L595.26,261.08 L596.26,261.07 L597.26,261.06 L598.26,261.06 L599.26,261.05 L600.26,261.05 L601.26,261.04 L602.26,261.04 L603.26,261.03 L604.26,261.03 L605.26,261.03 L606.26,261.02 L607.25,261.02 L608.25,261.02 L609.25,261.01 L610.25,261.01 L611.25,261.01 L612.25,261.01 L613.25,261.00 L614.25,261.00 L615.25,261.00 L616.25,261.00 L617.25,261.00 L618.25,261.00 L619.25,260.99 L620.25,260.99 L621.25,260.99 L622.25,260.99 L623.25,260.99 L624.25,260.98 L625.25,260.98 L626.25,260.98 L627.25,260.98 L628.25,260.98 L629.25,260.97 L630.25,260.97 L631.25,260.97 L632.25,260.97 L633.25,260.98 L634.25,260.98 L635.25,260.98 L636.25,260.99 L637.25,260.99 L638.24,261.00 L639.24,261.01 L640.24,261.02 L641.24,261.04 L642.24,261.06 L643.24,261.08 L644.24,261.11 L645.24,261.14 L646.24,261.17 L647.24,261.21 L648.24,261.25 L649.23,261.30 L650.23,261.36 L651.23,261.42 L652.23,261.48 L653.22,261.55 L654.22,261.63 L655.22,261.71 L656.21,261.80 L657.21,261.89 L658.20,261.99 L659.20,262.09 L660.19,262.20 L661.18,262.31 L662.18,262.42 L663.17,262.54 L664.16,262.66 L665.16,262.78 L666.15,262.90 L667.14,263.02 L668.13,263.14 L669.13,263.26 L670.12,263.37 L671.11,263.49 L672.10,263.60 L673.10,263.71 L674.09,263.82 L675.09,263.93 L676.08,264.03 L677.07,264.14 L678.07,264.25 L679.06,264.36 L680.05,264.47 L681.05,264.59 L682.04,264.72 L683.03,264.86 L684.02,265.00 L685.00,265.16 L685.99,265.33 L686.97,265.50 L687.96,265.68 L688.94,265.87 L689.92,266.07 L690.89,266.28 L691.87,266.50 L692.84,266.74 L693.80,266.99 L694.77,267.26 L695.72,267.56 L696.66,267.87 L697.60,268.21 L698.53,268.58 L699.44,268.98 L700.33,269.42 L701.20,269.89 L702.04,270.41 L702.85,270.98 L703.61,271.60 L704.32,272.28 L704.98,273.01 L705.59,273.78 L706.15,274.59 L706.66,275.44 L707.14,276.31 L707.57,277.21 L707.97,278.12 L708.34,279.04 L708.68,279.98 L708.98,280.93 L709.26,281.89 L709.50,282.85 L709.72,283.83 L709.91,284.81 L710.08,285.79 L710.24,286.78 L710.38,287.76 L710.52,288.75 L710.66,289.74 L710.79,290.74 L710.91,291.73 L711.03,292.72 L711.14,293.71 L711.24,294.71 L711.34,295.70 L711.43,296.70 L711.51,297.69 L711.59,298.69 L711.67,299.69 L711.74,300.68 L711.80,301.68 L711.87,302.68 L711.93,303.68 L711.99,304.68 L712.04,305.67 L712.09,306.67 L712.14,307.67 L712.19,308.67 L712.24,309.67 L712.28,310.67 L712.33,311.67 L712.37,312.66 L712.42,313.66 L712.46,314.66 L712.51,315.66 L712.55,316.66 L712.59,317.66 L712.64,318.66 L712.69,319.65 L712.73,320.65 L712.78,321.65 L712.82,322.65 L712.87,323.65 L712.92,324.65 L712.96,325.65 L713.01,326.65 L713.06,327.64 L713.10,328.64 L713.15,329.64 L713.19,330.64 L713.24,331.64 L713.28,332.64 L713.32,333.64 L713.37,334.63 L713.41,335.63 L713.45,336.63 L713.50,337.63 L713.54,338.63 L713.58,339.63 L713.63,340.63 L713.67,341.63 L713.71,342.62 L713.75,343.62 L713.80,344.62 L713.84,345.62 L713.88,346.62 L713.92,347.62 L713.96,348.62 L714.00,349.62 L714.04,350.62 L714.08,351.61 L714.12,352.61 L714.16,353.61 L714.20,354.61 L714.24,355.61 L714.28,356.61 L714.31,357.61 L714.35,358.61 L714.38,359.61 L714.42,360.61 L714.45,361.60 L714.49,362.60 L714.52,363.60 L714.56,364.60 L714.59,365.60 L714.62,366.60 L714.66,367.60 L714.69,368.60 L714.72,369.60 L714.75,370.60 L714.78,371.60 L714.81,372.60 L714.85,373.59 L714.88,374.59 L714.91,375.59 L714.94,376.59 L714.97,377.59 L715.00,378.59 L715.03,379.59 L715.06,380.59 L715.09,381.59 L715.12,382.59 L715.15,383.59 L715.18,384.59 L715.20,385.59 L715.23,386.58 L715.26,387.58 L715.29,388.58 L715.32,389.58 L715.35,390.58 L715.37,391.58 L715.40,392.58 L715.43,393.58 L715.46,394.58 L715.48,395.58 L715.51,396.58 L715.54,397.58 L715.56,398.58 L715.59,399.58 L715.61,400.58 L715.64,401.57 L715.67,402.57 L715.69,403.57 L715.72,404.57 L715.74,405.57 L715.77,406.57 L715.79,407.57 L715.82,408.57 L715.84,409.57 L715.86,410.57 L715.89,411.57 L715.91,412.57 L715.93,413.57 L715.96,414.57 L715.98,415.57 L716.00,416.57 L716.03,417.57 L716.05,418.56 L716.07,419.56 L716.09,420.56 L716.12,421.56 L716.14,422.56 L716.16,423.56 L716.18,424.56 L716.20,425.56 L716.23,426.56 L716.25,427.56 L716.27,428.56 L716.29,429.56 L716.31,430.56 L716.33,431.56 L716.35,432.56 L716.37,433.56 L716.39,434.56 L716.41,435.56 L716.43,436.55 L716.45,437.55 L716.47,438.55 L716.49,439.55 L716.51,440.55 L716.53,441.55 L716.55,442.55 L716.57,443.55 L716.59,444.55 L716.61,445.55 L716.63,446.55 L716.65,447.55 L716.67,448.55 L716.69,449.55 L716.71,450.55 L716.73,451.55 L716.75,452.55 L716.77,453.55 L716.79,454.55 L716.80,455.55 L716.82,456.55 L716.84,457.54 L716.86,458.54 L716.88,459.54 L716.90,460.54 L716.91,461.54 L716.93,462.54 L716.95,463.54 L716.97,464.54 L716.98,465.54 L717.00,466.54 L717.02,467.54 L717.04,468.54 L717.05,469.54 L717.07,470.54 L717.09,471.54 L717.11,472.54 L717.12,473.54 L717.14,474.54 L717.16,475.54 L717.18,476.54 L717.19,477.54 L717.21,478.53 L717.23,479.53 L717.24,480.53 L717.26,481.53 L717.28,482.53 L717.29,483.53 L717.31,484.53 L717.33,485.53 L717.34,486.53 L717.36,487.53 L717.38,488.53 L717.39,489.53 L717.41,490.53 L717.43,491.53 L717.44,492.53 L717.46,493.53 L717.47,494.53 L717.49,495.53 L717.51,496.53 L717.52,497.53 L717.54,498.53 L717.56,499.53 L717.57,500.53 L717.59,501.52 L717.60,502.52 L717.62,503.52 L717.64,504.52 L717.65,505.52 L717.67,506.52 L717.69,507.52 L717.70,508.52 L717.72,509.52 L717.73,510.52 L717.75,511.52 L717.77,512.52 L717.78,513.52 L717.80,514.52 L717.81,515.52 L717.83,516.52 L717.84,517.52 L717.86,518.52 L717.88,519.52 L717.89,520.52 L717.91,521.52 L717.92,522.52 L717.94,523.52 L717.96,524.51 L717.97,525.51 L717.99,526.51 L718.00,527.51 L718.02,528.51 L718.03,529.51 L718.05,530.51 L718.07,531.51 L718.08,532.51 L718.10,533.51 L718.11,534.51 L718.13,535.51 L718.14,536.51 L718.16,537.51 L718.18,538.51 L718.19,539.51 L718.21,540.51 L718.22,541.51 L718.24,542.51 L718.25,543.51 L718.27,544.51 L718.29,545.51 L718.30,546.51 L718.32,547.51 L718.33,548.50 L718.35,549.50 L718.36,550.50 L718.38,551.50 L718.39,552.50 L718.40,553.50 L718.42,554.50 L718.43,555.50 L718.45,556.50 L718.46,557.50 L718.48,558.50 L718.49,559.50 L718.50,560.00" stroke="#ff8000"/><path d="M84.50,275.40 L85.49,275.29 L86.49,275.18 L87.48,275.06 L88.47,274.95 L89.47,274.83 L90.46,274.71 L91.45,274.60 L92.44,274.48 L93.44,274.37 L94.43,274.25 L95.42,274.14 L96.42,274.03 L97.41,273.92 L98.40,273.81 L99.40,273.70 L100.39,273.59 L101.39,273.49 L102.38,273.39 L103.37,273.29 L104.37,273.19 L105.36,273.09 L106.36,272.99 L107.35,272.90 L108.35,272.81 L109.34,272.72 L110.34,272.63 L111.34,272.55 L112.33,272.47 L113.33,272.39 L114.32,272.31 L115.32,272.23 L116.32,272.16 L117.32,272.09 L118.31,272.02 L119.31,271.95 L120.31,271.88 L121.30,271.82 L122.30,271.75 L123.30,271.69 L124.30,271.63 L125.30,271.57 L126.29,271.51 L127.29,271.46 L128.29,271.40 L129.29,271.35 L130.29,271.29 L131.28,271.24 L132.28,271.19 L133.28,271.14 L134.28,271.09 L135.28,271.04 L136.28,270.99 L137.27,270.94 L138.27,270.90 L139.27,270.85 L140.27,270.81 L141.27,270.76 L142.27,270.72 L143.27,270.67 L144.26,270.63 L145.26,270.59 L146.26,270.55 L147.26,270.51 L148.26,270.47 L149.26,270.43 L150.26,270.39 L151.26,270.36 L152.26,270.32 L153.25,270.29 L154.25,270.25 L155.25,270.22 L156.25,270.18 L157.25,270.15 L158.25,270.12 L159.25,270.09 L160.25,270.06 L161.25,270.03 L162.25,270.00 L163.25,269.97 L164.24,269.94 L165.24,269.91 L166.24,269.88 L167.24,269.86 L168.24,269.83 L169.24,269.81 L170.24,269.78 L171.24,269.76 L172.24,269.73 L173.24,269.71 L174.24,269.69 L175.24,269.67 L176.24,269.65 L177.24,269.63 L178.24,269.61 L179.23,269.59 L180.23,269.57 L181.23,269.55 L182.23,269.53 L183.23,269.52 L184.23,269.50 L185.23,269.49 L186.23,269.47 L187.23,269.46 L188.23,269.45 L189.23,269.43 L190.23,269.42 L191.23,269.41 L192.23,269.39 L193.23,269.38 L194.23,269.37 L195.23,269.36 L196.23,269.34 L197.23,269.33 L198.23,269.32 L199.23,269.31 L200.23,269.30 L201.22,269.28 L202.22,269.27 L203.22,269.26 L204.22,269.25 L205.22,269.23 L206.22,269.22 L207.22,269.21 L208.22,269.20 L209.22,269.18 L210.22,269.17 L211.22,269.16 L212.22,269.15 L213.22,269.13 L214.22,269.12 L215.22,269.11 L216.22,269.10 L217.22,269.08 L218.22,269.07 L219.22,269.06 L220.22,269.05 L221.22,269.04 L222.22,269.02 L223.21,269.01 L224.21,269.00 L225.21,268.99 L226.21,268.98 L227.21,268.96 L228.21,268.95 L229.21,268.94 L230.21,268.93 L231.21,268.92 L232.21,268.91 L233.21,268.90 L234.21,268.88 L235.21,268.87 L236.21,268.86 L237.21,268.85 L238.21,268.84 L239.21,268.83 L240.21,268.82 L241.21,268.81 L242.21,268.80 L243.21,268.79 L244.21,268.78 L245.21,268.77 L246.21,268.76 L247.20,268.75 L248.20,268.74 L249.20,268.73 L250.20,268.72 L251.20,268.71 L252.20,268.70 L253.20,268.69 L254.20,268.68 L255.20,268.68 L256.20,268.67 L257.20,268.66 L258.20,268.65 L259.20,268.64 L260.20,268.63 L261.20,268.63 L262.20,268.62 L263.20,268.61 L264.20,268.60 L265.20,268.60 L266.20,268.59 L267.20,268.58 L268.20,268.57 L269.20,268.57 L270.20,268.56 L271.20,268.55 L272.19,268.55 L273.19,268.54 L274.19,268.54 L275.19,268.53 L276.19,268.52 L277.19,268.52 L278.19,268.51 L279.19,268.51 L280.19,268.50 L281.19,268.50 L282.19,268.49 L283.19,268.49 L284.19,268.48 L285.19,268.48 L286.19,268.48 L287.19,268.47 L288.19,268.47 L289.19,268.46 L290.19,268.46 L291.19,268.46 L292.19,268.45 L293.19,268.45 L294.19,268.45 L295.19,268.44 L296.19,268.44 L297.19,268.44 L298.18,268.43 L299.18,268.43 L300.18,268.43 L301.18,268.43 L302.18,268.42 L303.18,268.42 L304.18,268.42 L305.18,268.42 L306.18,268.41 L307.18,268.41 L308.18,268.41 L309.18,268.41 L310.18,268.41 L311.18,268.41 L312.18,268.40 L313.18,268.40 L314.18,268.40 L315.18,268.40 L316.18,268.40 L317.18,268.40 L318.18,268.40 L319.18,268.39 L320.18,268.39 L321.18,268.39 L322.18,268.39 L323.18,268.39 L324.18,268.39 L325.17,268.39 L326.17,268.39 L327.17,268.39 L328.17,268.39 L329.17,268.39 L330.17,268.39 L331.17,268.39 L332.17,268.39 L333.17,268.39 L334.17,268.38 L335.17,268.38 L336.17,268.38 L337.17,268.38 L338.17,268.38 L339.17,268.38 L340.17,268.38 L341.17,268.38 L342.17,268.38 L343.17,268.38 L344.17,268.38 L345.17,268.38 L346.17,268.38 L347.17,268.38 L348.17,268.38 L349.17,268.39 L350.17,268.39 L351.17,268.39 L352.17,268.39 L353.16,268.39 L354.16,268.39 L355.16,268.39 L356.16,268.39 L357.16,268.39 L358.16,268.39 L359.16,268.39 L360.16,268.39 L361.16,268.39 L362.16,268.39 L363.16,268.39 L364.16,268.39 L365.16,268.39 L366.16,268.39 L367.16,268.40 L368.16,268.40 L369.16,268.40 L370.16,268.40 L371.16,268.40 L372.16,268.40 L373.16,268.40 L374.16,268.40 L375.16,268.40 L376.16,268.40 L377.16,268.40 L378.16,268.41 L379.16,268.41 L380.15,268.41 L381.15,268.41 L382.15,268.41 L383.15,268.41 L384.15,268.41 L385.15,268.41 L386.15,268.41 L387.15,268.42 L388.15,268.42 L389.15,268.42 L390.15,268.42 L391.15,268.42 L392.15,268.42 L393.15,268.42 L394.15,268.42 L395.15,268.43 L396.15,268.43 L397.15,268.43 L398.15,268.43 L399.15,268.43 L400.15,268.43 L401.15,268.43 L402.15,268.43 L403.15,268.44 L404.15,268.44 L405.15,268.44 L406.15,268.44 L407.14,268.44 L408.14,268.44 L409.14,268.44 L410.14,268.45 L411.14,268.45 L412.14,268.45 L413.14,268.45 L414.14,268.45 L415.14,268.45 L416.14,268.45 L417.14,268.45 L418.14,268.46 L419.14,268.46 L420.14,268.46 L421.14,268.46 L422.14,268.46 L423.14,268.46 L424.14,268.46 L425.14,268.47 L426.14,268.47 L427.14,268.47 L428.14,268.47 L429.14,268.47 L430.14,268.47 L431.14,268.47 L432.14,268.47 L433.14,268.48 L434.14,268.48 L435.13,268.48 L436.13,268.48 L437.13,268.48 L438.13,268.48 L439.13,268.48 L440.13,268.48 L441.13,268.49 L442.13,268.49 L443.13,268.49 L444.13,268.49 L445.13,268.49 L446.13,268.49 L447.13,268.49 L448.13,268.49 L449.13,268.49 L450.13,268.49 L451.13,268.50 L452.13,268.50 L453.13,268.50 L454.13,268.50 L455.13,268.50 L456.13,268.50 L457.13,268.50 L458.13,268.50 L459.13,268.50 L460.13,268.50 L461.13,268.50 L462.12,268.50 L463.12,268.50 L464.12,268.50 L465.12,268.50 L466.12,268.50 L467.12,268.49 L468.12,268.49 L469.12,268.49 L470.12,268.49 L471.12,268.49 L472.12,268.49 L473.12,268.49 L474.12,268.48 L475.12,268.48 L476.12,268.48 L477.12,268.48 L478.12,268.47 L479.12,268.47 L480.12,268.47 L481.12,268.47 L482.12,268.46 L483.12,268.46 L484.12,268.46 L485.12,268.46 L486.12,268.45 L487.12,268.45 L488.12,268.45 L489.11,268.44 L490.11,268.44 L491.11,268.44 L492.11,268.43 L493.11,268.43 L494.11,268.43 L495.11,268.42 L496.11,268.42 L497.11,268.42 L498.11,268.41 L499.11,268.41 L500.11,268.41 L501.11,268.40 L502.11,268.40 L503.11,268.39 L504.11,268.39 L505.11,268.39 L506.11,268.38 L507.11,268.38 L508.11,268.37 L509.11,268.37 L510.11,268.37 L511.11,268.36 L512.11,268.36 L513.11,268.36 L514.11,268.35 L515.11,268.35 L516.10,268.34 L517.10,268.34 L518.10,268.34 L519.10,268.33 L520.10,268.33 L521.10,268.32 L522.10,268.32 L523.10,268.32 L524.10,268.31 L525.10,268.31 L526.10,268.31 L527.10,268.30 L528.10,268.30 L529.10,268.29 L530.10,268.29 L531.10,268.29 L532.10,268.28 L533.10,268.28 L534.10,268.28 L535.10,268.27 L536.10,268.27 L537.10,268.27 L538.10,268.26 L539.10,268.26 L540.10,268.26 L541.10,268.25 L542.10,268.25 L543.09,268.25 L544.09,268.25 L545.09,268.24 L546.09,268.24 L547.09,268.24 L548.09,268.24 L549.09,268.23 L550.09,268.23 L551.09,268.23 L552.09,268.23 L553.09,268.22 L554.09,268.22 L555.09,268.22 L556.09,268.22 L557.09,268.22 L558.09,268.22 L559.09,268.22 L560.09,268.22 L561.09,268.21 L562.09,268.21 L563.09,268.21 L564.09,268.21 L565.09,268.21 L566.09,268.21 L567.09,268.21 L568.09,268.21 L569.09,268.21 L570.08,268.21 L571.08,268.21 L572.08,268.22 L573.08,268.22 L574.08,268.22 L575.08,268.22 L576.08,268.22 L577.08,268.22 L578.08,268.23 L579.08,268.23 L580.08,268.23 L581.08,268.24 L582.08,268.24 L583.08,268.24 L584.08,268.25 L585.08,268.25 L586.08,268.26 L587.08,268.26 L588.08,268.27 L589.08,268.27 L590.08,268.28 L591.08,268.29 L592.08,268.30 L593.08,268.30 L594.08,268.31 L595.08,268.32 L596.07,268.33 L597.07,268.34 L598.07,268.35 L599.07,268.36 L600.07,268.37 L601.07,268.39 L602.07,268.40 L603.07,268.42 L604.07,268.43 L605.07,268.45 L606.07,268.46 L607.07,268.48 L608.07,268.50 L609.07,268.52 L610.07,268.55 L611.07,268.57 L612.07,268.60 L613.06,268.63 L614.06,268.66 L615.06,268.69 L616.06,268.73 L617.06,268.77 L618.06,268.81 L619.06,268.86 L620.05,268.90 L621.05,268.96 L622.05,269.01 L623.05,269.07 L624.04,269.14 L625.04,269.20 L626.04,269.27 L627.04,269.35 L628.03,269.42 L629.03,269.50 L630.02,269.57 L631.02,269.65 L632.02,269.73 L633.01,269.81 L634.01,269.89 L635.01,269.96 L636.00,270.04 L637.00,270.11 L637.99,270.17 L638.99,270.24 L639.99,270.29 L640.99,270.34 L641.99,270.38 L642.98,270.42 L643.98,270.45 L644.98,270.48 L645.98,270.50 L646.98,270.51 L647.98,270.52 L648.98,270.53 L649.98,270.53 L650.98,270.53 L651.98,270.53 L652.98,270.53 L653.98,270.52 L654.98,270.51 L655.98,270.51 L656.98,270.50 L657.98,270.49 L658.97,270.48 L659.97,270.47 L660.97,270.46 L661.97,270.45 L662.97,270.44 L663.97,270.43 L664.97,270.42 L665.97,270.42 L666.97,270.41 L667.97,270.41 L668.97,270.40 L669.97,270.40 L670.97,270.41 L671.97,270.41 L672.97,270.42 L673.97,270.43 L674.97,270.45 L675.97,270.47 L676.97,270.50 L677.97,270.53 L678.96,270.58 L679.96,270.63 L680.96,270.69 L681.96,270.76 L682.95,270.83 L683.95,270.92 L684.94,271.02 L685.94,271.12 L686.93,271.23 L687.92,271.34 L688.92,271.46 L689.91,271.58 L690.90,271.71 L691.89,271.83 L692.89,271.95 L693.88,272.06 L694.87,272.17 L695.87,272.28 L696.86,272.39 L697.85,272.49 L698.85,272.59 L699.84,272.69 L700.84,272.79 L701.83,272.89 L702.83,272.99 L703.82,273.09 L704.82,273.19 L705.81,273.29 L706.81,273.39 L707.80,273.49 L708.79,273.60 L709.79,273.70 L710.78,273.81 L711.77,273.92 L712.77,274.04 L713.76,274.15 L714.75,274.27 L715.75,274.39 L716.74,274.51 L717.73,274.63 L718.72,274.76 L719.71,274.88 L720.71,275.01 L721.70,275.14 L722.69,275.28 L723.67,275.42 L724.66,275.58 L725.64,275.75 L726.62,275.94 L727.60,276.15 L728.57,276.39 L729.53,276.65 L730.49,276.94 L731.43,277.25 L732.38,277.58 L733.31,277.92 L734.25,278.27 L735.19,278.61 L736.13,278.94 L737.08,279.25 L738.03,279.55 L738.98,279.84 L739.93,280.15 L740.87,280.48 L741.79,280.84 L742.70,281.24 L743.60,281.67 L744.49,282.12 L745.37,282.60 L746.24,283.08 L747.11,283.58 L747.98,284.07 L748.85,284.56 L749.72,285.05 L750.59,285.54 L751.45,286.04 L752.31,286.55 L753.16,287.07 L753.99,287.62 L754.80,288.20 L755.60,288.79 L756.38,289.42 L757.14,290.06 L757.88,290.73 L758.59,291.43 L759.28,292.15 L759.94,292.89 L760.57,293.66 L761.17,294.45 L761.73,295.27 L762.27,296.11 L762.76,296.97 L763.22,297.85 L763.65,298.75 L764.03,299.67 L764.39,300.60 L764.71,301.54 L765.00,302.50 L765.27,303.46 L765.51,304.42 L765.74,305.40 L765.94,306.37 L766.13,307.36 L766.30,308.34 L766.46,309.33 L766.61,310.31 L766.75,311.30 L766.89,312.29 L767.02,313.28 L767.16,314.27 L767.29,315.27 L767.42,316.26 L767.55,317.25 L767.67,318.24 L767.79,319.23 L767.91,320.23 L768.02,321.22 L768.12,322.21 L768.22,323.21 L768.31,324.20 L768.40,325.20 L768.49,326.19 L768.57,327.19 L768.65,328.19 L768.73,329.18 L768.80,330.18 L768.87,331.18 L768.94,332.17 L769.01,333.17 L769.07,334.17 L769.14,335.17 L769.20,336.16 L769.26,337.16 L769.32,338.16 L769.38,339.16 L769.44,340.16 L769.50,341.15 L769.55,342.15 L769.61,343.15 L769.66,344.15 L769.71,345.15 L769.77,346.14 L769.82,347.14 L769.87,348.14 L769.92,349.14 L769.97,350.14 L770.02,351.14 L770.07,352.13 L770.12,353.13 L770.16,354.13 L770.21,355.13 L770.26,356.13 L770.30,357.13 L770.35,358.13 L770.39,359.12 L770.44,360.12 L770.48,361.12 L770.52,362.12 L770.56,363.12 L770.60,364.12 L770.64,365.12 L770.68,366.12 L770.72,367.12 L770.76,368.11 L770.80,369.11 L770.83,370.11 L770.87,371.11 L770.91,372.11 L770.94,373.11 L770.98,374.11 L771.01,375.11 L771.05,376.11 L771.08,377.11 L771.11,378.10 L771.15,379.10 L771.18,380.10 L771.21,381.10 L771.24,382.10 L771.27,383.10 L771.30,384.10 L771.33,385.10 L771.36,386.10 L771.39,387.10 L771.42,388.10 L771.45,389.09 L771.48,390.09 L771.51,391.09 L771.54,392.09 L771.57,393.09 L771.59,394.09 L771.62,395.09 L771.65,396.09 L771.68,397.09 L771.70,398.09 L771.73,399.09 L771.75,400.09 L771.78,401.09 L771.81,402.09 L771.83,403.08 L771.86,404.08 L771.88,405.08 L771.91,406.08 L771.93,407.08 L771.95,408.08 L771.98,409.08 L772.00,410.08 L772.02,411.08 L772.05,412.08 L772.07,413.08 L772.09,414.08 L772.11,415.08 L772.13,416.08 L772.15,417.08 L772.17,418.08 L772.19,419.07 L772.20,420.07 L772.22,421.07 L772.24,422.07 L772.26,423.07 L772.27,424.07 L772.29,425.07 L772.30,426.07 L772.32,427.07 L772.33,428.07 L772.35,429.07 L772.36,430.07 L772.37,431.07 L772.39,432.07 L772.40,433.07 L772.41,434.07 L772.43,435.07 L772.44,436.07 L772.45,437.07 L772.47,438.07 L772.48,439.07 L772.49,440.06 L772.50,441.06 L772.51,442.06 L772.53,443.06 L772.54,444.06 L772.55,445.06 L772.56,446.06 L772.57,447.06 L772.59,448.06 L772.60,449.06 L772.61,450.06 L772.62,451.06 L772.64,452.06 L772.65,453.06 L772.66,454.06 L772.68,455.06 L772.69,456.06 L772.70,457.06 L772.72,458.06 L772.73,459.06 L772.74,460.06 L772.76,461.06 L772.77,462.05 L772.79,463.05 L772.80,464.05 L772.82,465.05 L772.83,466.05 L772.85,467.05 L772.87,468.05 L772.88,469.05 L772.90,470.05 L772.92,471.05 L772.94,472.05 L772.95,473.05 L772.97,474.05 L772.99,475.05 L773.01,476.05 L773.03,477.05 L773.05,478.05 L773.06,479.05 L773.08,480.05 L773.10,481.05 L773.12,482.04 L773.14,483.04 L773.16,484.04 L773.18,485.04 L773.20,486.04 L773.22,487.04 L773.24,488.04 L773.26,489.04 L773.27,490.04 L773.29,491.04 L773.31,492.04 L773.33,493.04 L773.35,494.04 L773.37,495.04 L773.39,496.04 L773.41,497.04 L773.43,498.04 L773.45,499.04 L773.47,500.03 L773.49,501.03 L773.51,502.03 L773.53,503.03 L773.55,504.03 L773.57,505.03 L773.59,506.03 L773.61,507.03 L773.63,508.03 L773.65,509.03 L773.67,510.03 L773.69,511.03 L773.71,512.03 L773.73,513.03 L773.75,514.03 L773.77,515.03 L773.80,516.03 L773.82,517.02 L773.84,518.02 L773.86,519.02 L773.88,520.02 L773.90,521.02 L773.92,522.02 L773.94,523.02 L773.96,524.02 L773.98,525.02 L774.00,526.02 L774.02,527.02 L774.04,528.02 L774.06,529.02 L774.08,530.02 L774.10,531.02 L774.12,532.02 L774.15,533.02 L774.17,534.02 L774.19,535.01 L774.21,536.01 L774.23,537.01 L774.25,538.01 L774.27,539.01 L774.29,540.01 L774.31,541.01 L774.33,542.01 L774.35,543.01 L774.37,544.01 L774.39,545.01 L774.42,546.01 L774.44,547.01 L774.46,548.01 L774.48,549.01 L774.50,550.01 L774.52,551.01 L774.54,552.00 L774.56,553.00 L774.58,554.00 L774.60,555.00 L774.62,556.00 L774.64,557.00 L774.66,558.00 L774.68,559.00 L774.70,560.00" stroke="#800080"/><path d="M84.50,385.60 L85.49,385.48 L86.48,385.36 L87.48,385.24 L88.47,385.11 L89.46,384.99 L90.45,384.87 L91.45,384.75 L92.44,384.63 L93.43,384.51 L94.42,384.40 L95.42,384.29 L96.41,384.18 L97.41,384.08 L98.40,383.98 L99.39,383.88 L100.39,383.78 L101.38,383.69 L102.38,383.60 L103.37,383.51 L104.37,383.42 L105.37,383.34 L106.36,383.26 L107.36,383.18 L108.36,383.10 L109.35,383.03 L110.35,382.96 L111.35,382.89 L112.34,382.82 L113.34,382.76 L114.34,382.70 L115.34,382.64 L116.33,382.58 L117.33,382.52 L118.33,382.47 L119.33,382.41 L120.33,382.36 L121.33,382.31 L122.32,382.26 L123.32,382.21 L124.32,382.17 L125.32,382.12 L126.32,382.08 L127.32,382.04 L128.32,382.00 L129.31,381.96 L130.31,381.92 L131.31,381.88 L132.31,381.84 L133.31,381.81 L134.31,381.77 L135.31,381.74 L136.31,381.70 L137.31,381.67 L138.31,381.64 L139.30,381.60 L140.30,381.57 L141.30,381.54 L142.30,381.51 L143.30,381.48 L144.30,381.44 L145.30,381.41 L146.30,381.38 L147.30,381.35 L148.30,381.32 L149.30,381.29 L150.30,381.26 L151.29,381.23 L152.29,381.20 L153.29,381.17 L154.29,381.14 L155.29,381.12 L156.29,381.09 L157.29,381.07 L158.29,381.05 L159.29,381.02 L160.29,381.00 L161.29,380.98 L162.29,380.96 L163.29,380.94 L164.29,380.93 L165.29,380.91 L166.29,380.89 L167.28,380.87 L168.28,380.85 L169.28,380.83 L170.28,380.81 L171.28,380.79 L172.28,380.77 L173.28,380.74 L174.28,380.71 L175.28,380.68 L176.28,380.64 L177.28,380.61 L178.27,380.57 L179.27,380.52 L180.27,380.47 L181.27,380.42 L182.27,380.36 L183.26,380.30 L184.26,380.24 L185.26,380.17 L186.26,380.11 L187.25,380.03 L188.25,379.96 L189.25,379.88 L190.24,379.81 L191.24,379.73 L192.24,379.65 L193.23,379.57 L194.23,379.49 L195.22,379.41 L196.22,379.33 L197.22,379.25 L198.21,379.17 L199.21,379.09 L200.21,379.01 L201.20,378.93 L202.20,378.85 L203.20,378.77 L204.19,378.69 L205.19,378.61 L206.19,378.54 L207.18,378.46 L208.18,378.38 L209.18,378.30 L210.17,378.22 L211.17,378.14 L212.17,378.06 L213.16,377.98 L214.16,377.90 L215.15,377.82 L216.15,377.74 L217.15,377.66 L218.14,377.58 L219.14,377.49 L220.14,377.41 L221.13,377.32 L222.13,377.24 L223.12,377.15 L224.12,377.06 L225.11,376.96 L226.11,376.87 L227.10,376.77 L228.10,376.67 L229.09,376.57 L230.09,376.47 L231.08,376.36 L232.07,376.26 L233.07,376.15 L234.06,376.03 L235.05,375.92 L236.05,375.80 L237.04,375.68 L238.03,375.55 L239.02,375.43 L240.01,375.30 L241.00,375.16 L241.99,375.03 L242.98,374.89 L243.97,374.75 L244.96,374.60 L245.95,374.45 L246.94,374.30 L247.92,374.14 L248.91,373.98 L249.89,373.81 L250.88,373.64 L251.86,373.46 L252.84,373.27 L253.82,373.09 L254.80,372.89 L255.78,372.69 L256.76,372.49 L257.73,372.28 L258.71,372.06 L259.68,371.84 L260.66,371.62 L261.63,371.39 L262.60,371.15 L263.57,370.92 L264.54,370.68 L265.51,370.43 L266.48,370.18 L267.45,369.93 L268.41,369.67 L269.38,369.41 L270.34,369.14 L271.30,368.87 L272.26,368.60 L273.22,368.32 L274.18,368.04 L275.14,367.75 L276.09,367.46 L277.05,367.16 L278.00,366.86 L278.95,366.56 L279.90,366.25 L280.85,365.94 L281.80,365.63 L282.75,365.31 L283.69,364.99 L284.64,364.66 L285.58,364.33 L286.53,364.00 L287.47,363.67 L288.41,363.33 L289.35,362.99 L290.29,362.65 L291.22,362.30 L292.16,361.95 L293.09,361.59 L294.02,361.23 L294.95,360.87 L295.88,360.50 L296.81,360.13 L297.73,359.75 L298.66,359.36 L299.58,358.98 L300.49,358.58 L301.41,358.18 L302.32,357.78 L303.23,357.37 L304.14,356.95 L305.05,356.53 L305.95,356.11 L306.86,355.68 L307.76,355.25 L308.66,354.82 L309.56,354.39 L310.46,353.96 L311.36,353.52 L312.26,353.08 L313.16,352.65 L314.06,352.21 L314.96,351.78 L315.86,351.34 L316.76,350.91 L317.66,350.47 L318.56,350.04 L319.46,349.60 L320.36,349.17 L321.25,348.73 L322.15,348.28 L323.04,347.84 L323.94,347.39 L324.83,346.94 L325.71,346.48 L326.60,346.02 L327.48,345.55 L328.36,345.08 L329.24,344.60 L330.11,344.12 L330.98,343.63 L331.85,343.14 L332.72,342.64 L333.58,342.14 L334.44,341.63 L335.30,341.12 L336.16,340.61 L337.01,340.09 L337.87,339.57 L338.72,339.04 L339.57,338.51 L340.41,337.99 L341.26,337.45 L342.11,336.92 L342.95,336.39 L343.79,335.85 L344.63,335.31 L345.47,334.77 L346.31,334.22 L347.15,333.68 L347.98,333.13 L348.82,332.58 L349.65,332.03 L350.48,331.47 L351.31,330.91 L352.14,330.35 L352.97,329.79 L353.79,329.22 L354.61,328.65 L355.43,328.08 L356.25,327.51 L357.07,326.93 L357.88,326.35 L358.69,325.77 L359.50,325.19 L360.31,324.60 L361.12,324.02 L361.93,323.43 L362.74,322.84 L363.54,322.25 L364.35,321.66 L365.16,321.07 L365.97,320.48 L366.78,319.90 L367.59,319.31 L368.40,318.73 L369.21,318.15 L370.03,317.58 L370.85,317.00 L371.67,316.43 L372.49,315.87 L373.32,315.31 L374.15,314.75 L374.98,314.19 L375.81,313.64 L376.64,313.09 L377.48,312.54 L378.32,311.99 L379.15,311.45 L379.99,310.91 L380.83,310.36 L381.68,309.83 L382.52,309.29 L383.36,308.76 L384.21,308.23 L385.06,307.70 L385.91,307.17 L386.76,306.65 L387.62,306.14 L388.48,305.63 L389.34,305.12 L390.20,304.62 L391.07,304.13 L391.94,303.64 L392.81,303.16 L393.69,302.68 L394.57,302.21 L395.45,301.75 L396.34,301.29 L397.23,300.83 L398.12,300.38 L399.01,299.93 L399.91,299.48 L400.80,299.04 L401.70,298.60 L402.60,298.17 L403.50,297.73 L404.40,297.30 L405.30,296.87 L406.21,296.44 L407.11,296.02 L408.02,295.59 L408.92,295.17 L409.83,294.75 L410.74,294.34 L411.65,293.93 L412.56,293.52 L413.48,293.12 L414.39,292.72 L415.31,292.33 L416.23,291.94 L417.15,291.55 L418.08,291.18 L419.00,290.80 L419.93,290.44 L420.87,290.08 L421.80,289.72 L422.73,289.37 L423.67,289.03 L424.61,288.70 L425.56,288.37 L426.50,288.05 L427.45,287.73 L428.40,287.42 L429.35,287.12 L430.30,286.83 L431.26,286.54 L432.22,286.26 L433.18,285.99 L434.14,285.72 L435.10,285.47 L436.07,285.22 L437.04,284.98 L438.01,284.75 L438.98,284.53 L439.96,284.32 L440.93,284.12 L441.91,283.93 L442.89,283.75 L443.88,283.58 L444.86,283.42 L445.85,283.27 L446.83,283.13 L447.82,283.00 L448.81,282.89 L449.80,282.78 L450.79,282.68 L451.79,282.60 L452.78,282.52 L453.78,282.46 L454.77,282.40 L455.77,282.36 L456.77,282.32 L457.76,282.29 L458.76,282.27 L459.76,282.26 L460.76,282.26 L461.76,282.27 L462.75,282.28 L463.75,282.30 L464.75,282.33 L465.75,282.36 L466.75,282.40 L467.74,282.45 L468.74,282.51 L469.74,282.57 L470.73,282.64 L471.73,282.71 L472.72,282.80 L473.72,282.88 L474.71,282.98 L475.71,283.08 L476.70,283.18 L477.69,283.29 L478.69,283.40 L479.68,283.52 L480.67,283.65 L481.66,283.78 L482.65,283.92 L483.63,284.06 L484.62,284.21 L485.61,284.37 L486.59,284.53 L487.57,284.71 L488.55,284.89 L489.53,285.08 L490.51,285.29 L491.48,285.50 L492.45,285.72 L493.42,285.96 L494.39,286.20 L495.35,286.45 L496.31,286.72 L497.27,286.99 L498.23,287.27 L499.18,287.57 L500.13,287.87 L501.08,288.17 L502.03,288.49 L502.97,288.81 L503.91,289.15 L504.85,289.48 L505.79,289.83 L506.72,290.18 L507.65,290.54 L508.58,290.91 L509.51,291.29 L510.43,291.67 L511.34,292.06 L512.26,292.46 L513.17,292.87 L514.07,293.29 L514.98,293.71 L515.87,294.15 L516.77,294.59 L517.66,295.04 L518.55,295.49 L519.43,295.95 L520.31,296.42 L521.19,296.90 L522.07,297.37 L522.94,297.85 L523.82,298.34 L524.69,298.82 L525.56,299.31 L526.44,299.80 L527.31,300.29 L528.18,300.77 L529.05,301.26 L529.92,301.75 L530.80,302.24 L531.67,302.73 L532.54,303.22 L533.41,303.71 L534.28,304.20 L535.15,304.70 L536.02,305.19 L536.88,305.69 L537.75,306.19 L538.61,306.69 L539.48,307.19 L540.34,307.70 L541.20,308.21 L542.05,308.72 L542.91,309.24 L543.76,309.76 L544.61,310.29 L545.46,310.81 L546.31,311.35 L547.15,311.88 L548.00,312.42 L548.84,312.96 L549.68,313.50 L550.51,314.04 L551.35,314.59 L552.18,315.14 L553.01,315.70 L553.85,316.25 L554.67,316.81 L555.50,317.37 L556.33,317.93 L557.16,318.49 L557.98,319.06 L558.81,319.62 L559.63,320.19 L560.45,320.76 L561.27,321.33 L562.09,321.90 L562.91,322.47 L563.73,323.04 L564.55,323.61 L565.37,324.19 L566.19,324.76 L567.01,325.33 L567.83,325.90 L568.65,326.48 L569.47,327.05 L570.29,327.62 L571.11,328.19 L571.93,328.76 L572.75,329.33 L573.57,329.91 L574.39,330.48 L575.21,331.05 L576.03,331.62 L576.86,332.19 L577.68,332.76 L578.50,333.33 L579.32,333.90 L580.14,334.47 L580.95,335.04 L581.77,335.62 L582.59,336.19 L583.41,336.76 L584.24,337.33 L585.06,337.90 L585.88,338.46 L586.71,339.02 L587.54,339.58 L588.37,340.14 L589.20,340.69 L590.03,341.24 L590.87,341.78 L591.72,342.31 L592.56,342.85 L593.41,343.37 L594.26,343.90 L595.11,344.42 L595.97,344.93 L596.83,345.44 L597.69,345.95 L598.55,346.45 L599.41,346.96 L600.28,347.46 L601.15,347.95 L602.01,348.45 L602.88,348.95 L603.75,349.44 L604.62,349.93 L605.49,350.43 L606.36,350.92 L607.23,351.41 L608.10,351.91 L608.97,352.40 L609.84,352.89 L610.71,353.38 L611.58,353.87 L612.46,354.35 L613.33,354.84 L614.20,355.32 L615.08,355.80 L615.96,356.28 L616.84,356.76 L617.72,357.23 L618.60,357.70 L619.49,358.16 L620.37,358.62 L621.26,359.07 L622.15,359.52 L623.05,359.97 L623.95,360.40 L624.85,360.84 L625.75,361.26 L626.66,361.68 L627.56,362.09 L628.48,362.50 L629.39,362.90 L630.31,363.29 L631.23,363.68 L632.15,364.07 L633.07,364.45 L634.00,364.82 L634.93,365.18 L635.86,365.54 L636.80,365.89 L637.73,366.24 L638.67,366.58 L639.61,366.92 L640.55,367.25 L641.50,367.59 L642.44,367.92 L643.38,368.25 L644.33,368.58 L645.27,368.91 L646.21,369.25 L647.14,369.60 L648.08,369.95 L649.01,370.30 L649.94,370.67 L650.87,371.04 L651.79,371.42 L652.72,371.80 L653.64,372.18 L654.56,372.56 L655.49,372.93 L656.42,373.29 L657.36,373.64 L658.30,373.97 L659.25,374.28 L660.20,374.57 L661.17,374.82 L662.14,375.03 L663.11,375.21 L664.10,375.35 L665.08,375.47 L666.07,375.58 L667.05,375.71 L668.03,375.87 L669.00,376.08 L669.95,376.34 L670.89,376.65 L671.81,377.01 L672.72,377.41 L673.62,377.84 L674.51,378.28 L675.41,378.72 L676.31,379.13 L677.23,379.50 L678.16,379.84 L679.11,380.14 L680.06,380.41 L681.02,380.67 L681.98,380.94 L682.94,381.23 L683.88,381.54 L684.82,381.88 L685.75,382.25 L686.67,382.63 L687.58,383.03 L688.50,383.43 L689.42,383.82 L690.34,384.20 L691.27,384.57 L692.20,384.93 L693.14,385.27 L694.08,385.61 L695.02,385.96 L695.95,386.31 L696.88,386.67 L697.81,387.05 L698.72,387.45 L699.62,387.87 L700.51,388.33 L701.37,388.82 L702.20,389.35 L703.01,389.93 L703.78,390.55 L704.51,391.21 L705.19,391.93 L705.81,392.68 L706.39,393.48 L706.91,394.32 L707.38,395.19 L707.80,396.09 L708.18,397.00 L708.53,397.94 L708.83,398.89 L709.10,399.84 L709.34,400.81 L709.56,401.78 L709.74,402.76 L709.91,403.75 L710.06,404.74 L710.20,405.73 L710.32,406.72 L710.43,407.71 L710.53,408.71 L710.62,409.70 L710.71,410.70 L710.79,411.69 L710.87,412.69 L710.94,413.69 L711.01,414.68 L711.09,415.68 L711.16,416.68 L711.23,417.67 L711.30,418.67 L711.37,419.67 L711.45,420.67 L711.52,421.66 L711.58,422.66 L711.65,423.66 L711.72,424.65 L711.78,425.65 L711.85,426.65 L711.91,427.65 L711.97,428.65 L712.03,429.64 L712.09,430.64 L712.15,431.64 L712.21,432.64 L712.27,433.63 L712.34,434.63 L712.40,435.63 L712.47,436.63 L712.54,437.62 L712.61,438.62 L712.69,439.62 L712.77,440.61 L712.86,441.61 L712.95,442.60 L713.05,443.60 L713.14,444.59 L713.24,445.59 L713.33,446.59 L713.41,447.58 L713.49,448.58 L713.55,449.58 L713.62,450.57 L713.67,451.57 L713.72,452.57 L713.77,453.57 L713.82,454.57 L713.86,455.57 L713.90,456.56 L713.94,457.56 L713.98,458.56 L714.02,459.56 L714.05,460.56 L714.09,461.56 L714.12,462.56 L714.15,463.56 L714.19,464.56 L714.22,465.56 L714.25,466.55 L714.28,467.55 L714.31,468.55 L714.34,469.55 L714.37,470.55 L714.40,471.55 L714.43,472.55 L714.46,473.55 L714.49,474.55 L714.52,475.55 L714.54,476.55 L714.57,477.55 L714.60,478.55 L714.62,479.54 L714.65,480.54 L714.68,481.54 L714.70,482.54 L714.73,483.54 L714.76,484.54 L714.78,485.54 L714.81,486.54 L714.83,487.54 L714.86,488.54 L714.88,489.54 L714.91,490.54 L714.93,491.54 L714.96,492.54 L714.98,493.54 L715.00,494.53 L715.03,495.53 L715.05,496.53 L715.08,497.53 L715.10,498.53 L715.12,499.53 L715.15,500.53 L715.17,501.53 L715.19,502.53 L715.22,503.53 L715.24,504.53 L715.26,505.53 L715.28,506.53 L715.31,507.53 L715.33,508.53 L715.35,509.53 L715.37,510.53 L715.40,511.52 L715.42,512.52 L715.44,513.52 L715.46,514.52 L715.48,515.52 L715.50,516.52 L715.53,517.52 L715.55,518.52 L715.57,519.52 L715.59,520.52 L715.61,521.52 L715.63,522.52 L715.66,523.52 L715.68,524.52 L715.70,525.52 L715.72,526.52 L715.74,527.52 L715.76,528.52 L715.78,529.51 L715.80,530.51 L715.82,531.51 L715.84,532.51 L715.87,533.51 L715.89,534.51 L715.91,535.51 L715.93,536.51 L715.95,537.51 L715.97,538.51 L715.99,539.51 L716.01,540.51 L716.03,541.51 L716.05,542.51 L716.07,543.51 L716.08,544.51 L716.10,545.51 L716.12,546.51 L716.13,547.51 L716.15,548.50 L716.16,549.50 L716.18,550.50 L716.19,551.50 L716.20,552.50 L716.22,553.50 L716.23,554.50 L716.24,555.50 L716.25,556.50 L716.27,557.50 L716.28,558.50 L716.29,559.50 L716.30,560.00" stroke="#0000ff"/></g><rect x="83.5" y="59.5" width="734" height="497" fill="none" stroke="#000" stroke-width="3"/><g font-family='"Liberation Sans", sans-serif' font-size="17.35" fill="#000" stroke="#000" stroke-width="0.1" style="font-kerning:none"><text x="82.48" y="35.50">Hi-Fi.ru</text><text x="410.91" y="35.50">Sinusoidal</text><text x="657.28" y="35.50">22.10.2014 13.33.47</text><text x="43.51" y="65.20">10.0</text><text x="53.16" y="164.30">5.0</text><text x="53.16" y="263.70">0.0</text><text x="47.38" y="363.00">-5.0</text><text x="37.73" y="462.30">-10.0</text><text x="37.73" y="561.70">-15.0</text><text x="30.51" y="115.10">dBRel</text><text x="822.68" y="65.20">180.0</text><text x="822.68" y="164.30">108.0</text><text x="823.34" y="263.70">36.0</text><text x="823.23" y="363.00">-36.0</text><text x="823.23" y="462.30">-108.0</text><text x="823.23" y="561.70">-180.0</text><text x="822.78" y="115.10">Deg</text><text x="73.03" y="581.50">10</text><text x="129.85" y="581.50">20</text><text x="204.75" y="581.50">50</text><text x="256.20" y="581.50">100</text><text x="313.02" y="581.50">200</text><text x="387.92" y="581.50">500</text><text x="449.16" y="581.50">1k</text><text x="505.98" y="581.50">2k</text><text x="580.88" y="581.50">5k</text><text x="632.34" y="581.50">10k</text><text x="689.16" y="581.50">20k</text><text x="764.06" y="581.50">50k</text><text x="802.40" y="581.50">80k</text><text x="542.12" y="581.50">Hz</text><text x="0.37" y="611.30">CH A</text><text x="56.27" y="611.30">dBRel 2.7237V</text><text x="183.08" y="611.30">Resolution 1/24 Octave</text><text x="376.71" y="611.30">Smooth Unsmoothed</text><text x="554.71" y="611.30">Sampling 192kHz</text><text x="705.28" y="611.30">Delay [ms] 0.000</text><text x="854.18" y="611.30">Dist R</text></g></svg>
</body></html>
